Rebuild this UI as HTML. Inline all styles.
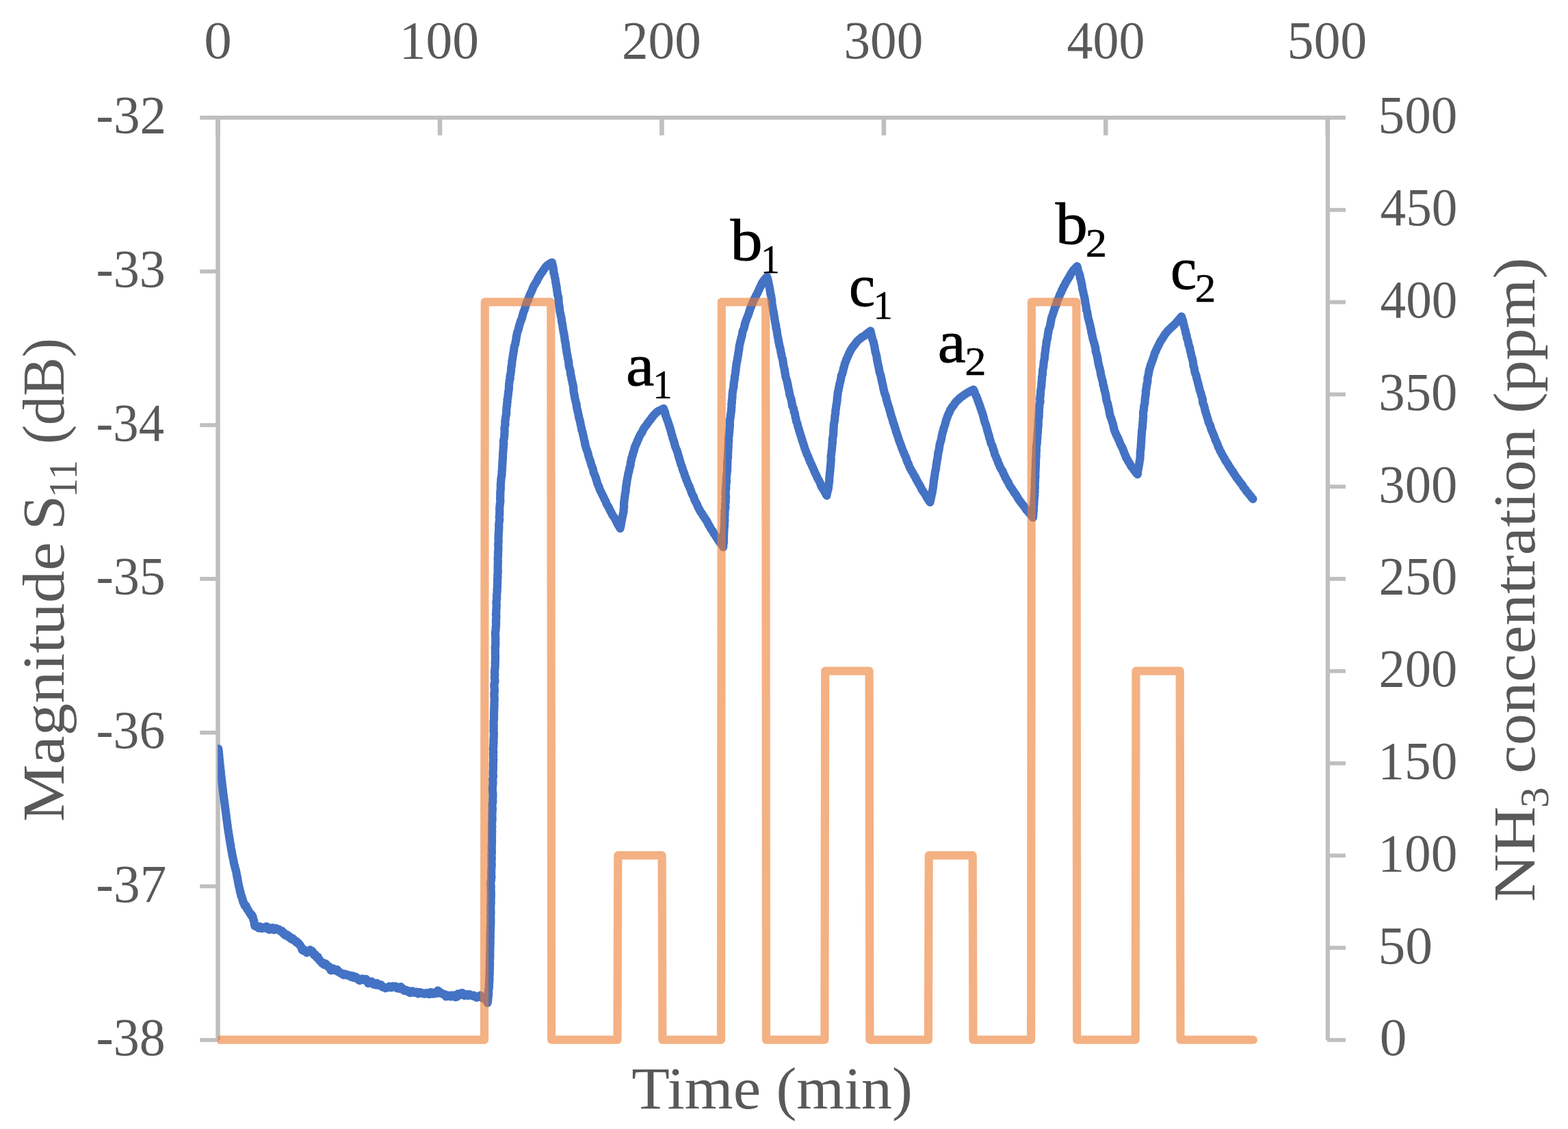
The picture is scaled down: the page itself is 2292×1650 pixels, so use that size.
<!DOCTYPE html>
<html lang="en"><head><meta charset="utf-8"><title>Magnitude S11 and NH3 concentration vs time</title>
<style>html,body{margin:0;padding:0;background:#fff;overflow:hidden}svg{display:block}text{font-family:"Liberation Serif","DejaVu Serif",serif}</style></head><body>
<svg width="2292" height="1650" viewBox="0 0 2292 1650">
<rect width="2292" height="1650" fill="#fff"/>
<defs><clipPath id="plot"><rect x="318.2" y="100" width="1700" height="1500"/></clipPath></defs>
<g fill="#BFBFBF"><rect x="292.3" y="169.0" width="1674.6" height="5.9"/><rect x="315.3" y="172.0" width="6.5" height="1348.0"/><rect x="1937.7" y="172.0" width="6.2" height="1348.0"/><rect x="292.3" y="393.8" width="27.2" height="5.8"/><rect x="292.3" y="618.4" width="27.2" height="5.8"/><rect x="292.3" y="843.1" width="27.2" height="5.8"/><rect x="292.3" y="1067.8" width="27.2" height="5.8"/><rect x="292.3" y="1292.4" width="27.2" height="5.8"/><rect x="292.3" y="1517.1" width="27.2" height="5.8"/><rect x="1939.8" y="1517.1" width="27.1" height="5.8"/><rect x="1939.8" y="1382.3" width="27.1" height="5.8"/><rect x="1939.8" y="1247.5" width="27.1" height="5.8"/><rect x="1939.8" y="1112.7" width="27.1" height="5.8"/><rect x="1939.8" y="977.9" width="27.1" height="5.8"/><rect x="1939.8" y="843.1" width="27.1" height="5.8"/><rect x="1939.8" y="708.3" width="27.1" height="5.8"/><rect x="1939.8" y="573.5" width="27.1" height="5.8"/><rect x="1939.8" y="438.7" width="27.1" height="5.8"/><rect x="1939.8" y="303.9" width="27.1" height="5.8"/><rect x="315.2" y="172.0" width="6.6" height="25.8"/><rect x="639.7" y="172.0" width="6.6" height="25.8"/><rect x="964.1" y="172.0" width="6.6" height="25.8"/><rect x="1288.6" y="172.0" width="6.6" height="25.8"/><rect x="1613.0" y="172.0" width="6.6" height="25.8"/><rect x="1937.5" y="172.0" width="6.6" height="25.8"/></g>
<g clip-path="url(#plot)" fill="none" stroke-linejoin="round" stroke-linecap="round">
<path d="M319.3 1094.4 L319.4 1095.1 L319.4 1096.0 L319.5 1096.5 L319.6 1097.0 L319.6 1097.7 L319.7 1098.5 L319.8 1099.1 L319.8 1099.7 L319.9 1100.5 L320.0 1101.4 L320.0 1102.1 L320.1 1102.5 L320.2 1103.1 L320.3 1103.8 L320.3 1104.4 L320.4 1105.2 L320.5 1106.1 L320.5 1107.0 L320.6 1107.6 L320.7 1108.2 L320.7 1109.0 L320.8 1109.6 L320.9 1110.1 L321.0 1110.9 L321.0 1111.7 L321.1 1112.4 L321.2 1113.1 L321.2 1113.7 L321.3 1114.6 L321.4 1115.6 L321.5 1116.3 L321.5 1117.0 L321.6 1117.7 L321.7 1118.3 L321.7 1118.8 L321.8 1119.4 L321.9 1119.9 L322.0 1120.5 L322.0 1121.3 L322.1 1122.3 L322.2 1123.1 L322.3 1123.7 L322.3 1124.4 L322.4 1125.0 L322.5 1125.6 L322.6 1126.3 L322.6 1127.0 L322.7 1127.9 L322.8 1128.7 L322.9 1129.3 L322.9 1130.0 L323.0 1130.8 L323.1 1131.7 L323.2 1132.3 L323.2 1133.0 L323.3 1133.7 L323.4 1134.2 L323.5 1134.8 L323.5 1135.6 L323.6 1136.2 L323.7 1136.9 L323.8 1137.7 L323.9 1138.3 L323.9 1139.1 L324.0 1139.9 L324.1 1140.5 L324.2 1140.9 L324.2 1141.4 L324.3 1142.3 L324.4 1143.2 L324.5 1143.9 L324.6 1144.6 L324.6 1145.4 L324.7 1146.0 L324.8 1146.7 L324.9 1147.5 L325.0 1148.0 L325.1 1148.8 L325.1 1149.8 L325.2 1150.3 L325.3 1150.7 L325.4 1151.5 L325.5 1152.4 L325.6 1153.1 L325.6 1153.7 L325.7 1154.3 L325.8 1155.0 L325.9 1155.8 L326.0 1156.5 L326.1 1157.1 L326.2 1157.8 L326.2 1158.5 L326.3 1159.2 L326.4 1159.9 L326.5 1160.6 L326.6 1161.4 L326.7 1162.0 L326.8 1162.6 L326.9 1163.4 L327.0 1164.1 L327.1 1164.7 L327.2 1165.3 L327.2 1165.9 L327.3 1166.8 L327.4 1167.6 L327.5 1168.3 L327.6 1168.9 L327.7 1169.5 L327.8 1170.1 L327.9 1170.9 L328.0 1171.8 L328.1 1172.4 L328.2 1172.9 L328.3 1173.5 L328.3 1174.1 L328.4 1174.8 L328.5 1175.6 L328.6 1176.1 L328.7 1176.6 L328.8 1177.4 L328.9 1178.3 L329.0 1179.1 L329.1 1179.8 L329.1 1180.4 L329.2 1181.2 L329.3 1181.9 L329.4 1182.6 L329.5 1183.3 L329.6 1184.0 L329.7 1184.7 L329.8 1185.4 L329.9 1186.1 L330.0 1186.9 L330.0 1187.7 L330.1 1188.4 L330.2 1189.1 L330.3 1189.8 L330.4 1190.6 L330.5 1191.3 L330.6 1191.9 L330.7 1192.6 L330.8 1193.2 L330.9 1193.9 L331.0 1194.9 L331.0 1195.3 L331.1 1195.8 L331.2 1196.6 L331.3 1197.3 L331.4 1198.0 L331.5 1198.8 L331.6 1199.3 L331.7 1200.0 L331.8 1200.7 L331.9 1201.3 L332.0 1201.9 L332.1 1202.7 L332.2 1203.6 L332.3 1204.5 L332.4 1205.2 L332.5 1206.0 L332.6 1206.5 L332.7 1207.0 L332.7 1207.6 L332.8 1208.1 L332.9 1208.8 L333.0 1209.6 L333.1 1210.5 L333.2 1211.2 L333.3 1211.8 L333.4 1212.4 L333.5 1213.0 L333.6 1213.9 L333.7 1214.7 L333.9 1215.4 L334.0 1216.1 L334.1 1217.0 L334.2 1217.6 L334.3 1218.1 L334.4 1218.7 L334.5 1219.4 L334.6 1220.1 L334.7 1220.8 L334.8 1221.6 L334.9 1222.4 L335.0 1223.2 L335.1 1223.8 L335.3 1224.4 L335.4 1225.0 L335.5 1225.6 L335.6 1226.4 L335.7 1227.3 L335.8 1227.9 L335.9 1228.7 L336.1 1229.3 L336.2 1230.0 L336.3 1230.7 L336.4 1231.4 L336.5 1232.0 L336.6 1232.7 L336.8 1233.3 L336.9 1234.0 L337.0 1234.8 L337.1 1235.7 L337.2 1236.3 L337.4 1236.9 L337.5 1237.2 L337.6 1238.1 L337.7 1239.0 L337.8 1239.7 L338.0 1240.6 L338.1 1241.2 L338.2 1241.8 L338.3 1242.8 L338.5 1243.7 L338.6 1244.2 L338.7 1244.6 L338.8 1245.1 L339.0 1245.7 L339.1 1246.3 L339.2 1247.2 L339.3 1248.4 L339.5 1249.0 L339.6 1249.5 L339.7 1250.3 L339.9 1251.1 L340.0 1251.7 L340.1 1252.5 L340.3 1253.0 L340.4 1253.5 L340.5 1254.1 L340.7 1254.2 L340.8 1255.0 L340.9 1255.9 L341.1 1256.5 L341.2 1257.3 L341.4 1258.0 L341.5 1259.0 L341.7 1260.3 L341.8 1260.8 L342.0 1261.3 L342.1 1262.0 L342.3 1262.6 L342.4 1263.4 L342.6 1264.2 L342.8 1264.8 L342.9 1265.1 L343.1 1265.9 L343.3 1266.5 L343.4 1267.0 L343.6 1268.0 L343.8 1268.6 L343.9 1269.6 L344.1 1270.3 L344.2 1270.7 L344.4 1271.2 L344.6 1271.6 L344.7 1271.6 L344.9 1272.4 L345.1 1273.1 L345.2 1273.9 L345.4 1274.7 L345.5 1275.4 L345.7 1276.1 L345.8 1277.6 L346.0 1278.5 L346.1 1278.6 L346.2 1279.2 L346.4 1280.2 L346.5 1281.4 L346.6 1282.1 L346.8 1282.0 L346.9 1282.4 L347.0 1283.1 L347.2 1283.7 L347.3 1284.5 L347.4 1285.6 L347.5 1286.5 L347.7 1287.8 L347.8 1288.3 L347.9 1288.1 L348.0 1288.5 L348.1 1289.5 L348.3 1290.6 L348.4 1290.6 L348.5 1290.9 L348.6 1292.0 L348.8 1292.9 L348.9 1293.6 L349.0 1294.8 L349.2 1295.3 L349.3 1295.7 L349.5 1296.1 L349.6 1296.8 L349.8 1297.3 L349.9 1297.6 L350.1 1298.6 L350.2 1299.2 L350.4 1300.0 L350.6 1301.0 L350.7 1302.6 L350.9 1303.3 L351.1 1303.8 L351.2 1304.1 L351.4 1303.7 L351.6 1303.9 L351.8 1305.4 L351.9 1306.9 L352.1 1307.6 L352.3 1308.4 L352.5 1308.8 L352.7 1308.7 L352.9 1309.9 L353.1 1311.1 L353.3 1310.6 L353.5 1310.4 L353.7 1311.5 L353.9 1312.6 L354.1 1313.4 L354.3 1313.8 L354.6 1314.3 L354.8 1314.7 L355.0 1316.7 L355.3 1318.4 L355.5 1318.6 L355.8 1318.3 L356.0 1318.7 L356.3 1318.9 L356.6 1320.5 L356.9 1321.5 L357.2 1321.9 L357.5 1322.9 L357.9 1323.7 L358.2 1324.3 L358.6 1324.4 L359.0 1324.1 L359.4 1323.5 L359.8 1324.1 L360.1 1325.5 L360.5 1326.8 L360.9 1327.9 L361.3 1328.7 L361.7 1328.4 L362.1 1328.9 L362.4 1329.7 L362.8 1330.3 L363.2 1330.9 L363.5 1331.5 L363.9 1332.6 L364.3 1333.0 L364.7 1333.8 L365.1 1334.5 L365.5 1335.1 L365.8 1334.7 L366.2 1335.6 L366.6 1336.4 L366.9 1337.5 L367.3 1338.2 L367.6 1337.2 L368.0 1336.9 L368.3 1337.8 L368.6 1338.6 L368.9 1338.4 L369.2 1339.2 L369.4 1339.4 L369.7 1340.1 L369.9 1341.8 L370.1 1343.2 L370.3 1343.7 L370.6 1344.5 L370.8 1345.7 L371.0 1345.7 L371.3 1345.4 L371.5 1347.4 L371.8 1349.8 L372.1 1352.0 L372.4 1353.3 L372.7 1352.9 L373.1 1352.1 L373.5 1351.7 L374.0 1352.8 L374.5 1354.1 L375.1 1354.3 L375.7 1353.4 L376.4 1354.0 L377.0 1355.5 L377.7 1356.3 L378.4 1355.3 L379.1 1354.3 L379.8 1354.2 L380.6 1354.5 L381.3 1355.1 L382.0 1356.4 L382.7 1357.0 L383.3 1357.0 L384.0 1356.6 L384.6 1355.7 L385.3 1355.4 L386.0 1355.2 L386.7 1355.8 L387.4 1356.4 L388.1 1355.3 L388.8 1354.1 L389.4 1354.6 L390.1 1354.8 L390.8 1354.6 L391.5 1355.8 L392.2 1358.0 L392.9 1358.7 L393.6 1358.0 L394.3 1358.6 L395.0 1358.5 L395.6 1357.1 L396.3 1357.1 L397.0 1357.3 L397.7 1356.8 L398.4 1355.8 L399.1 1356.6 L399.7 1358.2 L400.4 1359.1 L401.0 1358.9 L401.7 1358.2 L402.3 1358.8 L402.9 1357.9 L403.5 1356.6 L404.1 1357.2 L404.7 1357.4 L405.3 1357.6 L405.9 1358.0 L406.5 1358.6 L407.1 1358.4 L407.7 1358.4 L408.3 1359.4 L408.9 1359.5 L409.5 1359.9 L410.0 1360.9 L410.6 1360.5 L411.2 1360.3 L411.8 1360.4 L412.4 1360.6 L413.0 1362.3 L413.6 1364.1 L414.2 1363.5 L414.8 1363.4 L415.4 1363.5 L416.0 1364.7 L416.6 1366.8 L417.2 1367.0 L417.8 1366.2 L418.4 1366.1 L419.0 1366.0 L419.6 1366.1 L420.2 1366.4 L420.8 1367.2 L421.4 1368.7 L422.0 1369.8 L422.6 1370.0 L423.2 1369.4 L423.8 1369.1 L424.4 1369.8 L424.9 1370.6 L425.5 1372.1 L426.1 1372.8 L426.7 1372.7 L427.3 1371.7 L427.9 1371.4 L428.5 1373.5 L429.1 1374.1 L429.7 1373.1 L430.3 1374.2 L430.9 1375.2 L431.5 1375.3 L432.1 1376.4 L432.7 1375.9 L433.3 1375.9 L433.8 1377.6 L434.4 1377.7 L434.9 1377.4 L435.4 1377.8 L435.9 1377.7 L436.4 1379.2 L436.9 1379.2 L437.3 1379.4 L437.7 1380.0 L438.1 1381.1 L438.5 1381.8 L438.9 1381.8 L439.2 1382.7 L439.5 1382.9 L439.8 1383.0 L440.1 1383.5 L440.4 1383.8 L440.7 1384.9 L441.1 1386.7 L441.4 1387.5 L441.7 1388.5 L442.1 1388.4 L442.5 1387.2 L442.9 1386.8 L443.3 1388.2 L443.8 1389.6 L444.3 1389.8 L445.0 1389.9 L445.6 1390.3 L446.3 1389.0 L447.1 1389.1 L447.9 1391.0 L448.6 1392.4 L449.4 1391.1 L450.2 1389.6 L450.9 1390.1 L451.7 1390.5 L452.3 1390.1 L452.9 1388.8 L453.5 1388.2 L454.0 1389.0 L454.6 1390.2 L455.1 1391.7 L455.6 1391.9 L456.0 1390.3 L456.5 1390.1 L457.0 1390.9 L457.4 1391.8 L457.9 1393.1 L458.3 1394.0 L458.8 1395.0 L459.2 1396.0 L459.6 1395.5 L460.1 1394.8 L460.6 1394.8 L461.0 1395.6 L461.5 1396.0 L462.0 1396.7 L462.6 1398.7 L463.1 1399.4 L463.6 1399.0 L464.2 1398.5 L464.7 1398.6 L465.3 1400.4 L465.8 1402.0 L466.4 1401.3 L467.0 1402.7 L467.6 1404.4 L468.2 1404.8 L468.7 1405.2 L469.3 1405.8 L469.9 1405.9 L470.5 1407.3 L471.1 1408.0 L471.7 1406.8 L472.3 1406.8 L472.9 1408.2 L473.5 1409.6 L474.1 1410.2 L474.7 1409.6 L475.3 1408.4 L475.9 1408.4 L476.5 1409.7 L477.1 1410.2 L477.7 1410.0 L478.3 1411.0 L478.9 1412.3 L479.5 1412.9 L480.1 1412.5 L480.7 1412.9 L481.3 1412.7 L481.9 1413.3 L482.5 1414.8 L483.1 1417.1 L483.7 1418.3 L484.3 1416.8 L484.9 1416.2 L485.5 1415.9 L486.1 1415.0 L486.7 1415.4 L487.4 1415.7 L488.0 1417.5 L488.6 1418.1 L489.2 1417.1 L489.8 1416.6 L490.4 1417.8 L491.0 1417.7 L491.7 1417.5 L492.3 1417.4 L492.9 1417.0 L493.5 1418.7 L494.2 1420.3 L494.8 1420.5 L495.4 1420.3 L496.1 1420.4 L496.7 1421.5 L497.4 1421.9 L498.0 1421.6 L498.7 1421.8 L499.3 1423.0 L500.0 1423.7 L500.6 1423.6 L501.3 1424.1 L501.9 1424.9 L502.6 1425.0 L503.2 1424.0 L503.9 1423.3 L504.5 1423.3 L505.2 1424.0 L505.8 1424.9 L506.5 1425.2 L507.1 1424.6 L507.8 1424.5 L508.4 1424.8 L509.1 1425.9 L509.7 1425.9 L510.4 1425.8 L511.0 1425.4 L511.7 1425.5 L512.3 1426.3 L513.0 1427.8 L513.6 1427.5 L514.3 1426.6 L514.9 1426.1 L515.6 1426.8 L516.3 1428.5 L516.9 1429.0 L517.6 1427.4 L518.2 1427.2 L518.9 1428.0 L519.6 1427.9 L520.3 1427.9 L520.9 1429.4 L521.6 1430.1 L522.3 1429.4 L523.0 1430.6 L523.7 1432.0 L524.4 1432.1 L525.1 1432.0 L525.8 1433.1 L526.5 1432.1 L527.2 1431.0 L527.9 1431.1 L528.6 1430.6 L529.2 1430.7 L529.9 1430.4 L530.6 1430.9 L531.3 1431.2 L531.9 1432.1 L532.6 1432.3 L533.2 1432.0 L533.9 1432.0 L534.5 1431.9 L535.1 1430.9 L535.7 1432.0 L536.4 1433.2 L537.0 1433.9 L537.6 1435.6 L538.2 1437.2 L538.8 1435.9 L539.4 1435.5 L540.0 1435.9 L540.6 1436.0 L541.2 1435.3 L541.8 1436.5 L542.4 1435.6 L543.0 1434.3 L543.7 1435.3 L544.3 1436.9 L544.9 1437.8 L545.6 1438.3 L546.2 1438.8 L546.9 1438.5 L547.5 1437.7 L548.2 1437.1 L548.9 1438.7 L549.6 1439.6 L550.3 1438.2 L551.0 1436.9 L551.7 1437.9 L552.4 1439.8 L553.1 1439.2 L553.8 1438.6 L554.5 1439.1 L555.2 1440.1 L555.9 1439.8 L556.6 1439.2 L557.3 1439.4 L558.0 1441.1 L558.7 1442.4 L559.4 1442.6 L560.1 1443.1 L560.7 1443.1 L561.4 1443.0 L562.1 1443.2 L562.8 1443.6 L563.5 1444.3 L564.2 1443.9 L564.9 1443.1 L565.6 1443.1 L566.2 1443.3 L566.9 1443.4 L567.6 1443.2 L568.3 1442.4 L569.0 1441.5 L569.7 1442.5 L570.4 1443.0 L571.1 1442.3 L571.8 1443.3 L572.5 1443.1 L573.2 1441.8 L573.9 1441.3 L574.6 1442.4 L575.3 1442.0 L576.0 1442.1 L576.7 1442.6 L577.4 1441.8 L578.1 1441.5 L578.8 1441.9 L579.5 1443.2 L580.2 1444.2 L580.9 1444.5 L581.6 1444.2 L582.3 1443.7 L583.0 1443.6 L583.7 1444.0 L584.4 1445.1 L585.0 1443.9 L585.7 1442.0 L586.4 1443.0 L587.1 1444.6 L587.7 1444.0 L588.4 1444.4 L589.0 1445.2 L589.7 1445.5 L590.3 1447.3 L590.9 1448.0 L591.6 1447.2 L592.2 1447.5 L592.9 1446.8 L593.5 1446.8 L594.2 1448.0 L594.8 1448.6 L595.4 1448.8 L596.1 1449.2 L596.8 1448.3 L597.4 1448.2 L598.1 1449.0 L598.7 1450.6 L599.4 1451.2 L600.1 1450.5 L600.8 1449.3 L601.5 1449.7 L602.2 1449.6 L602.9 1448.3 L603.6 1448.7 L604.3 1450.2 L605.0 1450.7 L605.7 1450.7 L606.4 1450.8 L607.1 1450.8 L607.8 1450.6 L608.5 1450.1 L609.2 1449.7 L609.9 1450.0 L610.6 1451.0 L611.3 1452.3 L612.0 1451.4 L612.7 1450.4 L613.4 1450.0 L614.1 1450.0 L614.8 1450.4 L615.5 1451.0 L616.2 1451.4 L616.9 1451.6 L617.6 1451.4 L618.2 1452.1 L618.9 1452.4 L619.6 1451.6 L620.3 1452.1 L621.0 1452.5 L621.7 1452.1 L622.4 1451.3 L623.1 1451.2 L623.8 1452.4 L624.5 1451.6 L625.2 1451.3 L625.9 1451.7 L626.6 1451.3 L627.3 1452.5 L627.9 1453.0 L628.6 1452.6 L629.3 1451.5 L630.0 1450.1 L630.7 1450.3 L631.4 1452.0 L632.1 1451.7 L632.8 1451.7 L633.5 1452.6 L634.2 1451.6 L634.9 1451.1 L635.6 1451.1 L636.3 1450.8 L637.0 1450.1 L637.7 1450.7 L638.4 1451.8 L639.1 1450.5 L639.8 1447.6 L640.5 1447.8 L641.1 1449.7 L641.8 1450.3 L642.5 1450.5 L643.2 1450.7 L643.9 1450.1 L644.6 1451.4 L645.3 1452.0 L645.9 1452.2 L646.6 1452.6 L647.3 1452.9 L648.0 1452.5 L648.7 1452.7 L649.4 1453.7 L650.1 1453.6 L650.8 1453.6 L651.5 1455.4 L652.1 1456.5 L652.8 1456.5 L653.5 1455.7 L654.2 1455.3 L654.9 1454.8 L655.6 1454.6 L656.3 1455.4 L657.0 1455.8 L657.7 1456.1 L658.4 1456.6 L659.1 1455.0 L659.8 1454.5 L660.5 1455.5 L661.2 1456.5 L661.9 1455.9 L662.6 1455.2 L663.3 1454.7 L664.0 1454.5 L664.7 1455.1 L665.3 1456.7 L666.0 1457.3 L666.7 1456.9 L667.4 1456.5 L668.1 1456.8 L668.8 1454.3 L669.5 1452.4 L670.2 1453.0 L670.9 1453.7 L671.6 1453.5 L672.3 1452.6 L673.0 1453.5 L673.7 1453.9 L674.3 1452.2 L675.0 1451.0 L675.7 1451.0 L676.4 1452.7 L677.1 1454.1 L677.8 1454.5 L678.5 1455.0 L679.2 1455.2 L679.9 1454.8 L680.6 1454.5 L681.3 1453.3 L682.0 1453.1 L682.7 1453.6 L683.3 1453.6 L684.0 1454.6 L684.7 1455.3 L685.4 1454.4 L686.1 1453.2 L686.8 1453.5 L687.5 1454.6 L688.2 1454.1 L688.9 1454.2 L689.6 1454.6 L690.3 1455.3 L691.0 1455.8 L691.7 1454.8 L692.4 1454.7 L693.1 1456.3 L693.8 1456.6 L694.5 1456.5 L695.2 1456.5 L696.0 1457.1 L696.7 1457.9 L697.4 1457.7 L698.1 1456.4 L698.8 1456.1 L699.6 1456.7 L700.3 1457.0 L701.0 1456.7 L701.6 1455.3 L702.3 1454.5 L703.0 1456.3 L703.6 1457.6 L704.3 1458.1 L704.9 1458.6 L705.5 1458.1 L706.1 1457.7 L706.7 1458.4 L707.3 1458.9 L707.9 1459.7 L708.5 1459.8 L709.1 1460.0 L709.6 1460.1 L710.1 1459.8 L710.6 1459.3 L711.0 1459.7 L711.5 1459.9 L711.9 1462.2 L712.3 1464.6 L712.6 1465.8 L713.0 1464.0 L713.1 1462.8 L713.2 1461.6 L713.2 1460.4 L713.4 1459.2 L713.6 1458.0 L713.7 1456.8 L713.9 1455.6 L714.0 1454.4 L714.1 1453.2 L714.2 1452.0 L714.2 1450.8 L714.1 1449.6 L714.1 1448.4 L714.2 1447.2 L714.4 1446.0 L714.6 1444.8 L714.8 1443.7 L714.9 1442.5 L714.9 1441.3 L714.9 1440.0 L714.9 1438.8 L714.9 1437.6 L715.1 1436.5 L715.3 1435.3 L715.3 1434.1 L715.3 1432.9 L715.5 1431.7 L715.6 1430.5 L715.4 1429.3 L715.3 1428.0 L715.4 1426.9 L715.5 1425.7 L715.6 1424.5 L715.7 1423.3 L715.7 1422.1 L715.7 1420.9 L715.7 1419.7 L715.7 1418.5 L715.8 1417.3 L716.0 1416.1 L716.0 1414.9 L715.9 1413.7 L715.9 1412.5 L716.0 1411.3 L716.1 1410.1 L716.2 1408.9 L716.2 1407.7 L716.0 1406.5 L715.9 1405.3 L716.0 1404.1 L716.0 1402.9 L716.1 1401.7 L716.3 1400.5 L716.3 1399.3 L716.2 1398.1 L716.3 1396.9 L716.4 1395.7 L716.4 1394.5 L716.3 1393.3 L716.2 1392.1 L716.2 1390.9 L716.3 1389.7 L716.4 1388.5 L716.4 1387.3 L716.4 1386.1 L716.4 1384.9 L716.6 1383.7 L716.6 1382.5 L716.5 1381.3 L716.6 1380.1 L716.8 1378.9 L716.7 1377.7 L716.6 1376.5 L716.6 1375.3 L716.7 1374.1 L716.6 1372.9 L716.6 1371.7 L716.8 1370.5 L716.9 1369.3 L716.9 1368.1 L716.7 1366.8 L716.6 1365.6 L716.7 1364.4 L716.8 1363.2 L716.9 1362.0 L716.9 1360.8 L717.0 1359.6 L717.0 1358.4 L717.1 1357.2 L717.1 1356.0 L717.1 1354.8 L717.0 1353.6 L717.1 1352.4 L717.3 1351.2 L717.4 1350.0 L717.4 1348.8 L717.4 1347.6 L717.4 1346.4 L717.4 1345.2 L717.3 1344.0 L717.3 1342.8 L717.3 1341.6 L717.3 1340.4 L717.2 1339.2 L717.2 1338.0 L717.4 1336.8 L717.5 1335.6 L717.6 1334.4 L717.6 1333.2 L717.5 1332.0 L717.3 1330.8 L717.3 1329.6 L717.4 1328.4 L717.3 1327.2 L717.2 1326.0 L717.2 1324.8 L717.3 1323.6 L717.5 1322.4 L717.6 1321.2 L717.7 1320.0 L717.7 1318.8 L717.7 1317.6 L717.7 1316.4 L717.6 1315.2 L717.6 1314.0 L717.7 1312.8 L717.8 1311.6 L717.8 1310.4 L717.9 1309.2 L717.8 1308.0 L717.7 1306.8 L717.9 1305.6 L717.9 1304.4 L717.8 1303.2 L717.6 1302.0 L717.5 1300.8 L717.6 1299.6 L717.6 1298.4 L717.7 1297.2 L717.7 1296.0 L717.7 1294.8 L717.4 1293.6 L717.3 1292.4 L717.3 1291.2 L717.3 1290.0 L717.4 1288.8 L717.8 1287.6 L718.0 1286.4 L718.0 1285.2 L718.1 1284.0 L718.4 1282.8 L718.5 1281.6 L718.4 1280.4 L718.2 1279.2 L718.1 1278.0 L718.1 1276.8 L718.2 1275.6 L718.3 1274.4 L718.2 1273.2 L718.1 1272.0 L718.1 1270.8 L718.3 1269.6 L718.4 1268.4 L718.5 1267.2 L718.6 1266.0 L718.7 1264.8 L718.8 1263.6 L718.7 1262.4 L718.5 1261.2 L718.4 1260.0 L718.5 1258.8 L718.6 1257.6 L718.6 1256.4 L718.7 1255.2 L718.8 1254.0 L718.7 1252.8 L718.6 1251.6 L718.5 1250.4 L718.4 1249.2 L718.6 1248.0 L718.9 1246.8 L719.0 1245.6 L718.9 1244.4 L718.7 1243.2 L718.7 1242.0 L718.7 1240.8 L718.8 1239.6 L718.8 1238.4 L718.7 1237.2 L718.7 1236.0 L718.9 1234.8 L719.0 1233.6 L719.0 1232.4 L719.0 1231.2 L719.0 1230.0 L719.1 1228.8 L719.0 1227.6 L718.9 1226.4 L719.0 1225.2 L719.0 1224.0 L719.1 1222.8 L719.1 1221.6 L719.0 1220.4 L719.0 1219.2 L719.0 1218.0 L719.1 1216.8 L719.3 1215.6 L719.3 1214.4 L719.1 1213.2 L718.9 1212.0 L718.9 1210.8 L719.1 1209.6 L719.3 1208.4 L719.2 1207.2 L719.1 1205.9 L719.0 1204.7 L719.0 1203.5 L719.2 1202.3 L719.2 1201.1 L719.3 1199.9 L719.5 1198.8 L719.7 1197.6 L719.7 1196.4 L719.6 1195.1 L719.5 1193.9 L719.4 1192.7 L719.4 1191.5 L719.6 1190.3 L719.5 1189.1 L719.4 1187.9 L719.5 1186.7 L719.7 1185.5 L719.9 1184.3 L720.0 1183.1 L720.0 1181.9 L719.9 1180.7 L719.7 1179.5 L719.6 1178.3 L719.6 1177.1 L719.6 1175.9 L719.7 1174.7 L720.0 1173.5 L720.3 1172.3 L720.4 1171.1 L720.3 1169.9 L720.2 1168.7 L720.2 1167.5 L720.3 1166.3 L720.4 1165.1 L720.4 1163.9 L720.4 1162.7 L720.4 1161.5 L720.5 1160.3 L720.4 1159.1 L720.2 1157.9 L719.9 1156.7 L719.9 1155.5 L720.0 1154.3 L719.9 1153.1 L719.8 1151.9 L719.9 1150.7 L720.1 1149.5 L720.2 1148.3 L720.3 1147.1 L720.5 1145.9 L720.5 1144.7 L720.5 1143.5 L720.5 1142.3 L720.3 1141.1 L720.2 1139.9 L720.2 1138.7 L720.4 1137.5 L720.7 1136.3 L721.0 1135.1 L721.0 1133.9 L720.8 1132.7 L720.6 1131.5 L720.6 1130.3 L720.6 1129.1 L720.6 1127.9 L720.7 1126.7 L720.8 1125.5 L720.9 1124.3 L720.9 1123.1 L720.9 1121.9 L720.9 1120.7 L720.9 1119.5 L720.8 1118.3 L720.8 1117.1 L720.9 1115.9 L720.9 1114.7 L721.0 1113.5 L721.2 1112.3 L721.4 1111.1 L721.3 1109.9 L721.1 1108.7 L721.1 1107.5 L721.1 1106.3 L721.2 1105.1 L721.1 1103.9 L720.9 1102.7 L720.9 1101.5 L721.2 1100.3 L721.4 1099.1 L721.2 1097.9 L721.0 1096.7 L720.8 1095.5 L720.8 1094.3 L720.9 1093.1 L721.2 1091.9 L721.4 1090.7 L721.3 1089.5 L721.2 1088.3 L721.4 1087.1 L721.6 1085.9 L721.5 1084.7 L721.4 1083.5 L721.4 1082.3 L721.6 1081.1 L721.6 1079.9 L721.6 1078.7 L721.8 1077.5 L721.9 1076.3 L721.9 1075.1 L721.9 1073.9 L721.9 1072.7 L721.9 1071.5 L721.8 1070.3 L721.6 1069.1 L721.4 1067.9 L721.6 1066.7 L721.8 1065.5 L721.6 1064.3 L721.5 1063.1 L721.7 1061.9 L721.8 1060.7 L721.6 1059.5 L721.5 1058.3 L721.6 1057.1 L721.6 1055.9 L721.7 1054.7 L721.7 1053.5 L721.9 1052.3 L722.1 1051.1 L722.1 1049.9 L722.1 1048.7 L722.1 1047.5 L722.1 1046.3 L722.0 1045.1 L722.0 1043.9 L722.1 1042.7 L722.1 1041.5 L722.1 1040.3 L722.2 1039.1 L722.3 1037.9 L722.3 1036.7 L722.2 1035.5 L722.3 1034.3 L722.5 1033.1 L722.6 1031.9 L722.6 1030.7 L722.5 1029.5 L722.5 1028.3 L722.5 1027.1 L722.5 1025.9 L722.6 1024.7 L722.7 1023.5 L722.8 1022.3 L722.8 1021.1 L722.7 1019.9 L722.6 1018.7 L722.5 1017.5 L722.4 1016.3 L722.4 1015.1 L722.4 1013.9 L722.5 1012.7 L722.7 1011.5 L722.9 1010.3 L723.0 1009.1 L722.9 1007.9 L722.8 1006.7 L722.7 1005.5 L722.6 1004.3 L722.4 1003.0 L722.4 1001.8 L722.5 1000.6 L722.6 999.4 L722.8 998.3 L723.2 997.1 L723.5 995.9 L723.5 994.7 L723.4 993.5 L723.2 992.3 L723.0 991.0 L722.9 989.8 L722.9 988.6 L723.1 987.4 L723.3 986.2 L723.3 985.0 L723.1 983.8 L723.0 982.6 L723.0 981.4 L723.1 980.2 L723.3 979.0 L723.3 977.8 L723.4 976.6 L723.6 975.4 L723.8 974.3 L723.8 973.1 L723.8 971.8 L723.8 970.6 L723.6 969.4 L723.7 968.2 L723.9 967.0 L724.0 965.8 L723.9 964.6 L723.9 963.4 L724.0 962.2 L724.1 961.0 L724.1 959.8 L724.0 958.6 L724.0 957.4 L723.9 956.2 L723.8 955.0 L723.9 953.8 L724.0 952.6 L724.0 951.4 L723.9 950.2 L723.8 949.0 L723.7 947.8 L723.7 946.6 L723.8 945.4 L724.2 944.2 L724.3 943.0 L724.3 941.8 L724.3 940.6 L724.4 939.4 L724.3 938.2 L724.2 937.0 L724.3 935.8 L724.3 934.6 L724.3 933.4 L724.3 932.2 L724.4 931.0 L724.3 929.8 L724.1 928.6 L724.0 927.4 L724.0 926.2 L723.9 925.0 L724.1 923.8 L724.4 922.6 L724.5 921.4 L724.5 920.2 L724.7 919.0 L724.7 917.8 L724.7 916.6 L724.9 915.4 L725.1 914.2 L725.1 913.0 L725.1 911.8 L725.2 910.6 L725.1 909.4 L725.0 908.2 L724.9 907.0 L725.1 905.8 L725.2 904.6 L725.3 903.4 L725.4 902.2 L725.5 901.0 L725.4 899.8 L725.0 898.6 L724.9 897.4 L725.1 896.2 L725.3 895.0 L725.4 893.8 L725.3 892.6 L725.3 891.4 L725.5 890.2 L725.6 889.0 L725.6 887.8 L725.7 886.6 L725.7 885.4 L725.9 884.2 L725.8 883.0 L725.5 881.8 L725.3 880.6 L725.5 879.4 L725.8 878.2 L725.9 877.0 L726.1 875.8 L726.2 874.6 L726.3 873.4 L726.1 872.2 L726.0 871.0 L726.1 869.8 L726.3 868.6 L726.4 867.4 L726.5 866.2 L726.6 865.0 L726.7 863.8 L726.5 862.6 L726.5 861.4 L726.8 860.2 L726.9 859.0 L727.0 857.8 L727.1 856.6 L727.0 855.4 L726.9 854.2 L727.0 853.0 L727.1 851.8 L727.2 850.6 L727.3 849.4 L727.1 848.2 L727.0 847.0 L727.1 845.8 L727.5 844.6 L727.6 843.4 L727.4 842.2 L727.2 841.0 L727.3 839.8 L727.6 838.6 L727.8 837.4 L727.7 836.2 L727.7 835.0 L727.8 833.8 L727.7 832.6 L727.6 831.4 L727.6 830.2 L727.6 829.0 L727.7 827.8 L727.7 826.6 L727.7 825.4 L727.7 824.2 L727.8 823.0 L727.9 821.8 L727.9 820.6 L727.8 819.4 L727.7 818.2 L727.7 817.0 L727.7 815.8 L727.8 814.6 L727.9 813.4 L728.1 812.2 L728.1 811.0 L728.1 809.8 L728.0 808.6 L728.0 807.4 L728.0 806.2 L728.2 805.0 L728.4 803.8 L728.4 802.6 L728.4 801.4 L728.4 800.2 L728.5 799.0 L728.3 797.8 L728.2 796.6 L728.2 795.4 L728.3 794.2 L728.5 793.0 L728.6 791.8 L728.6 790.6 L728.7 789.4 L728.6 788.2 L728.5 787.0 L728.5 785.8 L728.6 784.6 L728.7 783.4 L728.7 782.2 L728.7 781.0 L728.8 779.8 L729.0 778.6 L729.1 777.4 L729.1 776.2 L729.2 775.0 L729.2 773.8 L729.3 772.6 L729.4 771.4 L729.4 770.2 L729.2 769.0 L729.2 767.8 L729.3 766.6 L729.4 765.4 L729.5 764.2 L729.7 763.0 L729.9 761.8 L730.1 760.6 L730.2 759.4 L730.2 758.2 L730.0 757.0 L729.8 755.8 L729.8 754.6 L730.1 753.4 L730.3 752.2 L730.3 751.0 L730.2 749.8 L730.3 748.6 L730.4 747.4 L730.3 746.2 L730.3 745.0 L730.3 743.8 L730.2 742.6 L730.3 741.4 L730.5 740.2 L730.7 739.0 L730.7 737.8 L730.8 736.6 L731.0 735.4 L731.2 734.2 L731.3 733.0 L731.4 731.8 L731.3 730.6 L731.2 729.4 L731.1 728.2 L731.2 727.0 L731.3 725.8 L731.3 724.6 L731.2 723.4 L731.3 722.2 L731.4 721.0 L731.3 719.8 L731.3 718.6 L731.6 717.4 L731.7 716.2 L731.8 715.0 L731.9 713.8 L731.9 712.6 L731.9 711.4 L731.8 710.2 L731.9 709.0 L731.8 707.8 L731.9 706.6 L732.2 705.4 L732.3 704.2 L732.3 703.0 L732.3 701.8 L732.4 700.6 L732.5 699.4 L732.7 698.2 L732.9 697.0 L733.1 695.8 L733.3 694.6 L733.6 693.4 L733.6 692.2 L733.5 691.0 L733.5 689.8 L733.6 688.6 L733.8 687.4 L733.9 686.2 L734.0 685.0 L734.1 683.8 L734.0 682.6 L734.1 681.4 L734.3 680.2 L734.4 679.0 L734.4 677.8 L734.4 676.6 L734.5 675.4 L734.5 674.2 L734.7 673.0 L734.9 671.8 L735.0 670.6 L734.9 669.4 L734.9 668.2 L735.1 667.0 L735.1 665.8 L735.1 664.6 L735.2 663.4 L735.2 662.2 L735.2 661.0 L735.4 659.8 L735.5 658.6 L735.6 657.4 L735.7 656.2 L735.7 655.0 L735.8 653.8 L735.8 652.6 L735.9 651.5 L736.1 650.3 L736.4 649.1 L736.3 647.9 L736.0 646.7 L735.9 645.4 L736.0 644.3 L736.3 643.1 L736.5 641.9 L736.8 640.7 L737.0 639.5 L737.1 638.3 L737.2 637.1 L737.3 635.9 L737.4 634.7 L737.4 633.5 L737.4 632.3 L737.5 631.1 L737.7 629.9 L737.6 628.7 L737.4 627.5 L737.4 626.3 L737.5 625.1 L737.7 623.9 L737.9 622.7 L738.3 621.6 L738.6 620.4 L738.5 619.2 L738.3 617.9 L738.3 616.7 L738.3 615.5 L738.5 614.3 L738.8 613.2 L739.1 612.0 L739.1 610.8 L739.2 609.6 L739.5 608.4 L739.6 607.2 L739.9 606.0 L740.2 604.9 L740.3 603.7 L740.2 602.5 L740.1 601.2 L740.3 600.1 L740.4 598.9 L740.4 597.7 L740.4 596.5 L740.5 595.3 L740.9 594.1 L741.1 592.9 L741.1 591.7 L741.0 590.5 L741.2 589.3 L741.6 588.1 L741.7 586.9 L741.6 585.7 L741.5 584.5 L741.7 583.3 L742.1 582.1 L742.4 581.0 L742.5 579.8 L742.5 578.6 L742.6 577.4 L742.8 576.2 L743.0 575.0 L743.1 573.8 L743.1 572.6 L743.4 571.4 L743.6 570.2 L743.8 569.1 L743.9 567.9 L743.9 566.6 L743.9 565.4 L744.0 564.2 L744.1 563.0 L744.1 561.8 L744.2 560.6 L744.4 559.5 L744.6 558.3 L744.7 557.1 L744.9 555.9 L745.3 554.7 L745.7 553.6 L745.7 552.4 L745.5 551.1 L745.5 549.9 L745.8 548.7 L746.1 547.6 L746.4 546.4 L746.5 545.2 L746.7 544.0 L746.9 542.8 L747.0 541.6 L747.1 540.4 L747.2 539.2 L747.2 538.0 L747.3 536.8 L747.6 535.7 L747.9 534.5 L748.0 533.3 L748.2 532.1 L748.3 530.9 L748.4 529.7 L748.4 528.5 L748.6 527.3 L748.8 526.1 L749.0 525.0 L749.2 523.8 L749.4 522.6 L749.5 521.4 L749.7 520.2 L750.0 519.0 L750.1 517.8 L750.3 516.7 L750.6 515.5 L750.7 514.3 L750.9 513.1 L751.2 511.9 L751.3 510.7 L751.4 509.5 L751.5 508.3 L751.7 507.2 L751.9 506.0 L752.4 504.8 L752.9 503.7 L753.2 502.5 L753.3 501.3 L753.5 500.2 L753.8 499.0 L754.0 497.8 L754.3 496.6 L754.5 495.4 L754.6 494.2 L754.6 493.0 L754.9 491.8 L755.2 490.7 L755.4 489.5 L755.6 488.3 L755.9 487.1 L756.2 485.9 L756.4 484.7 L757.0 483.6 L757.5 482.5 L757.8 481.4 L758.1 480.2 L758.2 479.0 L758.5 477.8 L758.9 476.7 L759.2 475.5 L759.4 474.3 L759.9 473.2 L760.4 472.1 L760.7 470.9 L760.9 469.7 L761.3 468.6 L761.9 467.5 L762.4 466.4 L762.9 465.3 L763.1 464.1 L763.3 462.9 L763.7 461.7 L764.0 460.6 L764.2 459.4 L764.6 458.2 L764.9 457.1 L765.3 455.9 L765.8 454.8 L766.3 453.7 L766.7 452.6 L767.1 451.4 L767.4 450.3 L767.7 449.1 L768.0 447.9 L768.4 446.8 L768.7 445.6 L769.0 444.5 L769.5 443.4 L770.0 442.3 L770.4 441.2 L770.9 440.1 L771.5 439.0 L772.0 438.0 L772.5 436.8 L772.8 435.7 L773.2 434.6 L773.6 433.4 L774.0 432.3 L774.4 431.2 L774.9 430.1 L775.4 429.0 L776.0 427.9 L776.5 426.9 L777.0 425.8 L777.5 424.7 L778.0 423.6 L778.5 422.5 L778.7 421.3 L779.1 420.2 L779.7 419.1 L780.3 418.1 L780.8 417.0 L781.4 416.0 L782.1 415.0 L782.7 413.9 L783.2 412.9 L783.9 411.9 L784.7 410.9 L785.2 409.9 L785.6 408.7 L786.1 407.6 L786.7 406.6 L787.4 405.6 L787.9 404.6 L788.5 403.5 L789.1 402.5 L789.8 401.5 L790.4 400.5 L791.1 399.4 L791.9 398.5 L792.7 397.6 L793.2 396.5 L793.9 395.5 L794.6 394.5 L795.3 393.6 L796.0 392.6 L796.7 391.6 L797.3 390.6 L798.1 389.8 L798.9 388.9 L799.7 388.0 L800.6 387.3 L801.6 386.7 L802.6 386.0 L803.6 385.3 L804.7 384.7 L805.7 384.1 L806.8 383.5 L807.0 384.7 L807.4 385.8 L807.6 387.0 L807.8 388.2 L808.2 389.3 L808.6 390.5 L808.7 391.7 L808.7 392.9 L809.0 394.1 L809.2 395.3 L809.3 396.5 L809.3 397.7 L809.4 398.9 L809.9 400.0 L810.4 401.2 L810.6 402.3 L810.7 403.6 L810.9 404.7 L811.2 405.9 L811.4 407.1 L811.7 408.2 L811.9 409.4 L812.0 410.6 L812.1 411.8 L812.3 413.0 L812.6 414.2 L812.9 415.4 L813.1 416.5 L813.2 417.7 L813.3 418.9 L813.7 420.1 L813.9 421.3 L813.9 422.5 L814.0 423.7 L814.2 424.9 L814.4 426.1 L814.6 427.2 L814.7 428.4 L814.9 429.6 L815.1 430.8 L815.4 432.0 L815.8 433.1 L816.2 434.3 L816.4 435.5 L816.5 436.7 L816.5 437.9 L816.5 439.1 L816.6 440.3 L816.7 441.5 L816.7 442.7 L816.8 443.9 L817.1 445.1 L817.4 446.3 L817.5 447.5 L817.6 448.6 L817.9 449.8 L818.0 451.0 L818.0 452.2 L818.1 453.4 L818.3 454.6 L818.6 455.8 L818.9 457.0 L819.2 458.1 L819.4 459.3 L819.5 460.5 L819.7 461.7 L820.1 462.9 L820.5 464.0 L820.7 465.2 L820.8 466.4 L820.9 467.6 L821.0 468.8 L821.1 470.0 L821.4 471.2 L821.7 472.3 L821.9 473.5 L822.1 474.7 L822.3 475.9 L822.5 477.1 L822.7 478.2 L822.8 479.4 L822.9 480.7 L823.1 481.8 L823.4 483.0 L823.6 484.2 L823.7 485.4 L824.0 486.6 L824.4 487.7 L824.6 488.9 L824.7 490.1 L824.8 491.3 L825.1 492.5 L825.4 493.6 L825.5 494.8 L825.5 496.0 L825.6 497.2 L825.9 498.4 L826.2 499.6 L826.5 500.8 L826.7 501.9 L826.8 503.1 L827.0 504.3 L827.2 505.5 L827.2 506.7 L827.3 507.9 L827.5 509.1 L827.8 510.3 L828.0 511.5 L828.2 512.6 L828.4 513.8 L828.4 515.0 L828.6 516.2 L828.9 517.4 L829.3 518.5 L829.5 519.7 L829.6 520.9 L829.7 522.1 L829.9 523.3 L830.1 524.5 L830.5 525.6 L830.9 526.8 L831.0 528.0 L831.1 529.2 L831.4 530.4 L831.4 531.6 L831.4 532.8 L831.5 534.0 L831.6 535.2 L831.9 536.3 L832.4 537.5 L832.8 538.6 L833.0 539.8 L833.3 541.0 L833.6 542.1 L833.8 543.3 L833.9 544.5 L833.9 545.7 L834.1 546.9 L834.3 548.1 L834.7 549.3 L835.1 550.4 L835.3 551.6 L835.3 552.8 L835.5 554.0 L835.8 555.1 L836.1 556.3 L836.4 557.5 L836.6 558.7 L836.8 559.8 L837.2 561.0 L837.4 562.2 L837.6 563.3 L838.0 564.5 L838.2 565.7 L838.2 566.9 L838.2 568.1 L838.3 569.3 L838.4 570.5 L838.6 571.7 L838.7 572.9 L838.8 574.1 L839.1 575.3 L839.5 576.4 L839.7 577.6 L839.7 578.8 L840.0 580.0 L840.2 581.2 L840.4 582.3 L840.7 583.5 L841.0 584.7 L841.3 585.8 L841.5 587.0 L841.8 588.2 L842.2 589.3 L842.6 590.5 L842.8 591.7 L842.8 592.9 L842.8 594.1 L843.0 595.3 L843.3 596.4 L843.6 597.6 L843.9 598.8 L844.2 599.9 L844.5 601.1 L844.7 602.3 L845.0 603.4 L845.2 604.6 L845.4 605.8 L845.8 606.9 L846.0 608.1 L846.0 609.3 L846.2 610.5 L846.7 611.6 L847.2 612.8 L847.4 613.9 L847.6 615.1 L847.9 616.3 L848.3 617.4 L848.5 618.6 L848.6 619.8 L848.8 621.0 L849.1 622.1 L849.4 623.3 L849.7 624.5 L850.0 625.6 L850.1 626.8 L850.2 628.0 L850.6 629.2 L851.1 630.3 L851.5 631.4 L851.7 632.6 L851.9 633.8 L852.1 635.0 L852.5 636.1 L852.9 637.3 L853.1 638.4 L853.3 639.6 L853.5 640.8 L853.7 642.0 L854.0 643.2 L854.3 644.3 L854.7 645.5 L855.0 646.6 L855.2 647.8 L855.2 649.0 L855.4 650.2 L855.8 651.3 L856.1 652.5 L856.4 653.7 L856.8 654.8 L857.1 655.9 L857.5 657.1 L858.0 658.2 L858.5 659.3 L858.8 660.4 L859.2 661.6 L859.5 662.7 L859.8 663.9 L860.0 665.1 L860.3 666.3 L860.6 667.4 L861.0 668.6 L861.3 669.7 L861.7 670.9 L862.2 672.0 L862.7 673.0 L863.1 674.2 L863.3 675.4 L863.6 676.5 L863.9 677.7 L864.3 678.9 L864.6 680.0 L864.9 681.2 L865.5 682.2 L866.0 683.3 L866.4 684.5 L866.7 685.6 L867.0 686.8 L867.2 688.0 L867.4 689.2 L867.6 690.4 L868.0 691.5 L868.6 692.6 L869.1 693.7 L869.5 694.8 L869.9 695.9 L870.4 697.0 L870.9 698.1 L871.1 699.3 L871.4 700.5 L871.9 701.6 L872.3 702.7 L872.6 703.9 L872.8 705.1 L873.1 706.3 L873.6 707.4 L874.1 708.5 L874.6 709.6 L875.2 710.6 L875.6 711.7 L875.8 712.9 L876.3 714.0 L876.7 715.2 L877.1 716.3 L877.6 717.4 L878.2 718.4 L878.8 719.5 L879.4 720.6 L879.9 721.7 L880.4 722.8 L881.0 723.8 L881.5 724.9 L882.0 726.0 L882.5 727.1 L883.0 728.2 L883.5 729.3 L884.0 730.4 L884.6 731.4 L885.2 732.5 L885.7 733.6 L886.0 734.8 L886.4 735.9 L886.9 737.0 L887.6 738.0 L888.2 739.1 L888.8 740.1 L889.5 741.1 L890.1 742.2 L890.6 743.3 L891.0 744.4 L891.5 745.5 L892.1 746.6 L892.7 747.6 L893.3 748.6 L893.8 749.7 L894.3 750.8 L894.9 752.0 L895.4 753.1 L896.1 754.1 L897.0 755.0 L897.7 756.0 L898.3 757.1 L899.0 758.2 L899.5 759.2 L900.1 760.4 L900.6 761.5 L901.3 762.5 L901.8 763.7 L902.2 764.8 L902.8 765.9 L903.4 767.0 L904.0 768.1 L904.7 769.1 L905.3 770.2 L906.0 771.2 L906.6 772.3 L906.8 771.1 L907.1 769.9 L907.4 768.8 L907.6 767.6 L907.7 766.4 L907.8 765.2 L908.1 764.0 L908.4 762.8 L908.6 761.6 L908.8 760.4 L909.1 759.3 L909.2 758.1 L909.5 756.9 L909.8 755.7 L910.1 754.5 L910.3 753.4 L910.5 752.2 L910.8 751.0 L911.0 749.8 L911.3 748.7 L911.6 747.5 L911.6 746.3 L911.6 745.0 L911.6 743.8 L911.8 742.6 L912.1 741.5 L912.2 740.3 L912.1 739.0 L911.9 737.8 L912.0 736.6 L912.1 735.4 L912.1 734.2 L912.3 733.0 L912.5 731.8 L912.7 730.6 L912.8 729.4 L912.9 728.2 L913.1 727.0 L913.3 725.8 L913.5 724.6 L913.6 723.4 L913.6 722.2 L913.9 721.0 L914.3 719.9 L914.5 718.7 L914.6 717.5 L914.7 716.3 L914.8 715.1 L914.8 713.9 L915.0 712.7 L915.2 711.5 L915.3 710.3 L915.4 709.1 L915.7 707.9 L916.1 706.8 L916.2 705.6 L916.2 704.3 L916.3 703.1 L916.6 702.0 L916.8 700.8 L917.0 699.6 L917.2 698.4 L917.5 697.2 L917.8 696.0 L918.0 694.9 L918.1 693.7 L918.3 692.5 L918.6 691.3 L919.0 690.1 L919.4 689.0 L919.6 687.8 L919.8 686.6 L919.9 685.4 L920.2 684.2 L920.6 683.1 L920.9 681.9 L921.3 680.8 L921.6 679.6 L921.7 678.4 L921.7 677.2 L921.8 675.9 L922.1 674.8 L922.5 673.6 L922.8 672.5 L922.9 671.3 L923.0 670.0 L923.3 668.9 L923.8 667.8 L924.4 666.6 L924.7 665.5 L924.9 664.3 L925.0 663.1 L925.4 661.9 L925.9 660.8 L926.3 659.7 L926.7 658.6 L927.0 657.4 L927.2 656.2 L927.5 655.0 L927.9 653.9 L928.3 652.7 L928.7 651.6 L929.2 650.5 L929.8 649.4 L930.3 648.3 L930.7 647.2 L931.2 646.1 L931.6 645.0 L932.0 643.8 L932.5 642.7 L933.2 641.7 L933.6 640.6 L933.9 639.4 L934.4 638.3 L935.0 637.3 L935.6 636.2 L936.1 635.1 L936.8 634.1 L937.5 633.1 L938.3 632.2 L938.9 631.1 L939.2 629.9 L939.7 628.8 L940.2 627.7 L940.8 626.7 L941.5 625.7 L942.2 624.7 L942.9 623.7 L943.6 622.7 L944.4 621.8 L945.1 620.9 L945.9 619.9 L946.4 618.8 L947.1 617.8 L947.9 616.9 L948.6 616.0 L949.3 615.0 L950.1 614.0 L950.9 613.1 L951.7 612.2 L952.3 611.1 L953.0 610.1 L953.9 609.3 L954.6 608.3 L955.3 607.3 L956.0 606.3 L956.9 605.5 L957.8 604.7 L958.6 603.9 L959.4 603.0 L960.3 602.2 L961.3 601.5 L962.3 600.8 L963.4 600.3 L964.5 599.8 L965.7 599.3 L966.7 598.8 L967.8 598.1 L968.9 597.5 L970.0 597.0 L970.4 598.1 L970.8 599.3 L971.3 600.4 L971.7 601.5 L972.1 602.7 L972.4 603.9 L972.6 605.1 L972.7 606.3 L973.1 607.5 L973.6 608.6 L974.0 609.7 L974.3 610.9 L974.7 612.0 L975.3 613.1 L975.7 614.3 L976.0 615.4 L976.4 616.6 L976.9 617.7 L977.2 618.8 L977.5 620.0 L977.9 621.2 L978.3 622.3 L978.7 623.5 L979.0 624.6 L979.4 625.8 L979.8 626.9 L980.1 628.1 L980.4 629.3 L980.8 630.4 L981.1 631.6 L981.3 632.8 L981.5 634.0 L982.0 635.1 L982.5 636.2 L982.8 637.4 L983.0 638.6 L983.2 639.8 L983.6 640.9 L984.1 642.1 L984.5 643.2 L984.8 644.4 L985.2 645.5 L985.6 646.7 L985.8 647.8 L986.1 649.0 L986.4 650.2 L986.7 651.4 L987.0 652.6 L987.5 653.7 L988.0 654.8 L988.4 655.9 L988.9 657.0 L989.4 658.2 L989.8 659.3 L990.2 660.4 L990.5 661.6 L990.8 662.7 L991.1 663.9 L991.4 665.1 L991.8 666.2 L992.1 667.4 L992.4 668.5 L992.8 669.7 L993.1 670.8 L993.5 672.0 L993.8 673.1 L994.2 674.3 L994.5 675.4 L994.9 676.5 L995.2 677.7 L995.5 678.9 L995.9 680.0 L996.4 681.1 L996.9 682.2 L997.2 683.3 L997.5 684.5 L997.8 685.7 L998.2 686.8 L998.6 687.9 L999.1 689.0 L999.5 690.2 L1000.0 691.3 L1000.5 692.4 L1000.6 693.6 L1000.9 694.8 L1001.3 695.9 L1001.9 697.0 L1002.4 698.1 L1002.8 699.2 L1003.1 700.3 L1003.5 701.5 L1003.9 702.6 L1004.5 703.7 L1004.9 704.8 L1005.4 705.9 L1005.7 707.0 L1006.0 708.2 L1006.7 709.2 L1007.4 710.2 L1007.9 711.3 L1008.1 712.5 L1008.5 713.7 L1009.0 714.7 L1009.5 715.8 L1010.0 716.9 L1010.3 718.1 L1010.6 719.3 L1011.0 720.4 L1011.5 721.4 L1011.9 722.6 L1012.4 723.6 L1013.2 724.6 L1013.8 725.6 L1014.2 726.7 L1014.5 727.9 L1014.8 729.1 L1015.2 730.1 L1015.7 731.2 L1016.2 732.3 L1016.8 733.3 L1017.4 734.3 L1018.0 735.4 L1018.5 736.4 L1019.0 737.5 L1019.4 738.6 L1019.8 739.7 L1020.2 740.9 L1020.8 741.9 L1021.4 742.9 L1021.9 744.0 L1022.4 745.0 L1023.1 746.0 L1023.6 747.1 L1024.1 748.2 L1024.9 749.1 L1025.7 750.0 L1026.4 751.0 L1026.9 752.1 L1027.4 753.2 L1028.1 754.2 L1028.9 755.1 L1029.6 756.0 L1030.2 757.1 L1030.8 758.1 L1031.4 759.1 L1032.2 760.1 L1032.9 761.1 L1033.4 762.1 L1034.0 763.2 L1034.4 764.3 L1035.0 765.4 L1035.6 766.4 L1036.2 767.5 L1036.8 768.5 L1037.4 769.5 L1038.0 770.5 L1038.6 771.6 L1039.1 772.7 L1039.7 773.7 L1040.5 774.6 L1041.3 775.5 L1042.0 776.6 L1042.5 777.6 L1043.1 778.7 L1043.6 779.7 L1044.3 780.8 L1045.1 781.8 L1045.8 782.8 L1046.4 783.9 L1047.1 785.0 L1047.8 786.0 L1048.5 787.1 L1049.1 788.2 L1049.8 789.3 L1050.5 790.3 L1051.2 791.3 L1052.0 792.4 L1052.7 793.4 L1053.6 794.3 L1054.4 795.3 L1055.2 796.3 L1055.8 797.4 L1056.5 798.4 L1057.2 799.5 L1057.3 798.3 L1057.3 797.1 L1057.3 795.9 L1057.5 794.7 L1057.7 793.5 L1058.0 792.3 L1058.0 791.1 L1057.9 789.9 L1057.9 788.7 L1058.0 787.5 L1058.0 786.3 L1057.9 785.1 L1058.0 783.9 L1058.1 782.7 L1058.1 781.5 L1058.1 780.3 L1058.2 779.1 L1058.3 777.9 L1058.3 776.7 L1058.4 775.5 L1058.5 774.3 L1058.5 773.1 L1058.7 771.9 L1058.8 770.7 L1058.8 769.5 L1058.9 768.3 L1059.0 767.1 L1058.9 765.9 L1058.9 764.7 L1059.1 763.5 L1059.2 762.3 L1059.4 761.1 L1059.4 759.9 L1059.3 758.7 L1059.1 757.5 L1059.1 756.3 L1059.3 755.1 L1059.4 753.9 L1059.4 752.7 L1059.5 751.5 L1059.5 750.3 L1059.4 749.1 L1059.4 747.9 L1059.5 746.7 L1059.6 745.5 L1059.9 744.3 L1060.3 743.1 L1060.4 741.9 L1060.4 740.7 L1060.3 739.5 L1060.1 738.3 L1060.0 737.1 L1060.2 735.9 L1060.4 734.7 L1060.8 733.5 L1060.9 732.3 L1060.7 731.1 L1060.5 729.9 L1060.7 728.7 L1061.0 727.5 L1061.1 726.3 L1061.0 725.1 L1060.8 723.9 L1060.7 722.7 L1060.6 721.5 L1060.6 720.3 L1060.7 719.1 L1060.7 717.9 L1060.8 716.7 L1061.0 715.5 L1061.3 714.3 L1061.3 713.1 L1061.3 711.9 L1061.3 710.7 L1061.3 709.5 L1061.3 708.3 L1061.4 707.1 L1061.6 705.9 L1061.9 704.7 L1062.0 703.5 L1061.9 702.3 L1061.8 701.1 L1061.8 699.9 L1061.8 698.7 L1061.8 697.5 L1061.9 696.3 L1062.1 695.1 L1062.3 693.9 L1062.4 692.7 L1062.5 691.5 L1062.7 690.3 L1062.8 689.1 L1062.9 687.9 L1063.1 686.7 L1063.1 685.5 L1063.1 684.3 L1063.1 683.1 L1063.2 681.9 L1063.3 680.7 L1063.2 679.5 L1063.0 678.3 L1063.0 677.1 L1063.3 675.9 L1063.5 674.7 L1063.4 673.5 L1063.4 672.3 L1063.5 671.1 L1063.7 669.9 L1064.0 668.7 L1064.1 667.5 L1064.0 666.3 L1063.8 665.1 L1064.0 663.9 L1064.1 662.7 L1064.2 661.5 L1064.3 660.3 L1064.4 659.1 L1064.3 657.9 L1064.3 656.7 L1064.5 655.5 L1064.6 654.3 L1064.7 653.1 L1064.8 651.9 L1064.7 650.7 L1064.7 649.5 L1064.7 648.3 L1064.7 647.1 L1064.9 645.9 L1065.2 644.7 L1065.2 643.5 L1065.0 642.3 L1064.8 641.1 L1064.9 639.9 L1065.2 638.7 L1065.5 637.5 L1065.7 636.3 L1065.7 635.1 L1065.7 633.9 L1065.8 632.7 L1066.1 631.5 L1066.3 630.3 L1066.4 629.1 L1066.3 627.9 L1066.3 626.7 L1066.5 625.5 L1066.7 624.3 L1066.8 623.1 L1066.9 621.9 L1067.0 620.7 L1066.9 619.5 L1066.8 618.3 L1066.8 617.1 L1066.8 615.9 L1066.9 614.7 L1067.0 613.5 L1067.2 612.3 L1067.5 611.1 L1067.7 609.9 L1067.9 608.7 L1068.0 607.5 L1067.9 606.3 L1068.1 605.1 L1068.5 604.0 L1068.6 602.8 L1068.7 601.6 L1068.9 600.4 L1069.0 599.2 L1069.0 598.0 L1069.2 596.8 L1069.3 595.6 L1069.4 594.4 L1069.4 593.2 L1069.3 592.0 L1069.3 590.7 L1069.5 589.6 L1069.9 588.4 L1069.9 587.2 L1069.7 586.0 L1069.8 584.7 L1070.1 583.6 L1070.3 582.4 L1070.4 581.2 L1070.5 580.0 L1070.4 578.8 L1070.5 577.6 L1070.6 576.4 L1070.7 575.2 L1070.8 574.0 L1071.0 572.8 L1071.1 571.6 L1071.3 570.4 L1071.6 569.2 L1071.7 568.0 L1072.0 566.8 L1072.4 565.7 L1072.6 564.5 L1072.5 563.3 L1072.4 562.0 L1072.5 560.8 L1072.8 559.7 L1073.0 558.5 L1073.1 557.3 L1073.3 556.1 L1073.6 554.9 L1073.8 553.7 L1073.9 552.5 L1073.8 551.3 L1074.0 550.1 L1074.3 548.9 L1074.6 547.8 L1074.8 546.6 L1075.0 545.4 L1075.1 544.2 L1075.1 543.0 L1075.3 541.8 L1075.6 540.6 L1075.6 539.4 L1075.6 538.2 L1075.8 537.0 L1076.1 535.8 L1076.3 534.6 L1076.3 533.4 L1076.4 532.2 L1076.6 531.0 L1076.9 529.8 L1077.2 528.7 L1077.5 527.5 L1077.8 526.3 L1077.9 525.1 L1078.1 523.9 L1078.2 522.7 L1078.4 521.6 L1078.7 520.4 L1078.9 519.2 L1079.0 518.0 L1079.3 516.8 L1079.5 515.7 L1079.6 514.5 L1079.7 513.3 L1080.0 512.1 L1080.3 510.9 L1080.4 509.7 L1080.4 508.5 L1080.6 507.3 L1080.7 506.1 L1080.8 504.9 L1081.2 503.8 L1081.6 502.6 L1081.7 501.4 L1081.9 500.2 L1082.3 499.1 L1082.7 497.9 L1082.9 496.8 L1083.2 495.6 L1083.4 494.4 L1083.7 493.3 L1084.0 492.1 L1084.4 491.0 L1084.8 489.8 L1084.9 488.6 L1085.0 487.4 L1085.2 486.2 L1085.4 485.0 L1085.7 483.9 L1086.2 482.7 L1086.8 481.7 L1087.2 480.5 L1087.6 479.4 L1087.8 478.2 L1088.1 477.0 L1088.4 475.9 L1088.6 474.7 L1088.8 473.5 L1089.1 472.3 L1089.6 471.2 L1090.0 470.1 L1090.3 468.9 L1090.6 467.8 L1091.2 466.7 L1091.6 465.6 L1091.9 464.4 L1092.4 463.3 L1092.9 462.2 L1093.3 461.1 L1093.7 460.0 L1094.2 458.8 L1094.6 457.7 L1095.0 456.6 L1095.2 455.4 L1095.6 454.3 L1096.0 453.2 L1096.3 452.0 L1096.7 450.9 L1097.2 449.8 L1097.6 448.7 L1098.1 447.6 L1098.5 446.5 L1098.9 445.3 L1099.4 444.3 L1100.0 443.2 L1100.4 442.1 L1100.9 441.0 L1101.3 439.9 L1101.7 438.8 L1102.2 437.7 L1102.8 436.6 L1103.4 435.6 L1104.0 434.5 L1104.5 433.4 L1104.9 432.3 L1105.5 431.3 L1106.2 430.3 L1106.8 429.2 L1107.2 428.1 L1107.7 427.0 L1108.2 425.9 L1108.7 424.8 L1109.3 423.8 L1109.7 422.7 L1110.2 421.6 L1110.7 420.5 L1111.3 419.4 L1111.8 418.3 L1112.4 417.3 L1112.9 416.2 L1113.3 415.1 L1113.7 413.9 L1114.3 412.9 L1115.0 411.9 L1115.7 410.9 L1116.4 410.0 L1117.1 409.0 L1117.9 408.1 L1118.7 407.1 L1119.5 406.2 L1120.4 405.4 L1121.2 404.5 L1121.5 405.6 L1121.9 406.8 L1122.2 408.0 L1122.5 409.1 L1122.8 410.3 L1123.1 411.5 L1123.2 412.6 L1123.5 413.8 L1123.8 415.0 L1124.0 416.2 L1124.2 417.3 L1124.5 418.5 L1124.7 419.7 L1125.0 420.9 L1125.2 422.0 L1125.3 423.2 L1125.5 424.4 L1125.7 425.6 L1125.9 426.8 L1126.0 428.0 L1126.2 429.2 L1126.5 430.3 L1126.9 431.5 L1127.2 432.6 L1127.3 433.8 L1127.5 435.0 L1127.7 436.2 L1127.9 437.4 L1128.2 438.5 L1128.3 439.7 L1128.2 441.0 L1128.3 442.2 L1128.4 443.4 L1128.6 444.5 L1128.8 445.7 L1129.0 446.9 L1129.2 448.1 L1129.4 449.3 L1129.6 450.5 L1129.7 451.7 L1129.9 452.8 L1130.3 454.0 L1130.6 455.2 L1130.8 456.3 L1130.9 457.5 L1131.1 458.7 L1131.3 459.9 L1131.7 461.1 L1131.8 462.2 L1131.9 463.4 L1132.0 464.6 L1132.3 465.8 L1132.5 467.0 L1132.6 468.2 L1132.9 469.4 L1133.0 470.5 L1133.2 471.7 L1133.4 472.9 L1133.8 474.1 L1134.2 475.2 L1134.3 476.4 L1134.2 477.6 L1134.3 478.8 L1134.6 480.0 L1135.0 481.2 L1135.4 482.3 L1135.6 483.5 L1135.7 484.7 L1135.8 485.9 L1136.0 487.1 L1136.2 488.3 L1136.3 489.4 L1136.5 490.6 L1136.8 491.8 L1137.0 493.0 L1137.3 494.1 L1137.5 495.3 L1137.8 496.5 L1137.9 497.7 L1138.0 498.9 L1138.3 500.1 L1138.6 501.2 L1138.9 502.4 L1139.1 503.5 L1139.3 504.7 L1139.5 505.9 L1139.8 507.1 L1140.3 508.2 L1140.6 509.3 L1140.8 510.5 L1141.0 511.7 L1141.2 512.9 L1141.3 514.1 L1141.5 515.3 L1141.9 516.4 L1142.2 517.6 L1142.4 518.8 L1142.5 520.0 L1142.7 521.1 L1143.1 522.3 L1143.6 523.4 L1143.9 524.6 L1144.1 525.7 L1144.3 526.9 L1144.4 528.1 L1144.6 529.3 L1144.9 530.5 L1145.0 531.7 L1145.0 532.9 L1145.3 534.1 L1145.6 535.2 L1145.9 536.4 L1146.1 537.6 L1146.4 538.7 L1146.7 539.9 L1147.0 541.0 L1147.1 542.2 L1147.2 543.4 L1147.3 544.6 L1147.6 545.8 L1148.0 546.9 L1148.1 548.1 L1148.2 549.3 L1148.4 550.5 L1148.6 551.7 L1149.0 552.8 L1149.5 553.9 L1149.9 555.0 L1150.2 556.2 L1150.5 557.3 L1150.7 558.5 L1150.9 559.7 L1151.2 560.8 L1151.4 562.0 L1151.7 563.2 L1152.0 564.3 L1152.0 565.5 L1152.2 566.7 L1152.6 567.8 L1152.9 569.0 L1153.1 570.2 L1153.4 571.3 L1153.6 572.5 L1153.8 573.7 L1153.9 574.9 L1154.1 576.0 L1154.4 577.2 L1154.8 578.3 L1155.1 579.4 L1155.5 580.6 L1155.9 581.7 L1156.3 582.8 L1156.7 584.0 L1156.9 585.1 L1157.0 586.3 L1157.2 587.5 L1157.5 588.6 L1157.7 589.8 L1157.8 591.0 L1157.9 592.2 L1158.2 593.4 L1158.7 594.5 L1159.3 595.5 L1159.8 596.6 L1160.1 597.8 L1160.3 599.0 L1160.4 600.2 L1160.5 601.4 L1161.0 602.5 L1161.6 603.5 L1161.9 604.7 L1162.1 605.9 L1162.3 607.1 L1162.4 608.3 L1162.6 609.4 L1163.0 610.6 L1163.4 611.7 L1163.6 612.9 L1163.7 614.1 L1163.9 615.3 L1164.3 616.4 L1164.8 617.5 L1165.3 618.6 L1165.7 619.7 L1165.9 620.9 L1166.1 622.1 L1166.3 623.2 L1166.7 624.4 L1167.1 625.5 L1167.5 626.6 L1167.9 627.7 L1168.1 628.9 L1168.4 630.1 L1168.8 631.2 L1169.2 632.3 L1169.5 633.5 L1169.8 634.6 L1170.2 635.7 L1170.6 636.8 L1171.0 638.0 L1171.3 639.1 L1171.6 640.3 L1172.0 641.4 L1172.3 642.5 L1172.8 643.7 L1173.1 644.8 L1173.4 645.9 L1173.8 647.1 L1174.2 648.2 L1174.6 649.3 L1174.9 650.5 L1175.3 651.6 L1175.7 652.8 L1176.0 653.9 L1176.3 655.1 L1176.6 656.2 L1177.1 657.3 L1177.6 658.4 L1178.0 659.5 L1178.4 660.6 L1178.8 661.8 L1179.1 662.9 L1179.6 664.0 L1180.2 665.1 L1180.7 666.1 L1181.3 667.2 L1181.7 668.3 L1182.0 669.5 L1182.5 670.6 L1183.0 671.7 L1183.5 672.8 L1183.8 674.0 L1184.2 675.1 L1184.8 676.2 L1185.4 677.2 L1185.9 678.3 L1186.3 679.4 L1186.9 680.5 L1187.3 681.6 L1187.8 682.7 L1188.4 683.8 L1188.8 684.9 L1189.3 686.0 L1189.8 687.1 L1190.3 688.2 L1190.7 689.4 L1191.1 690.5 L1191.6 691.6 L1192.2 692.7 L1192.8 693.7 L1193.3 694.8 L1193.9 695.9 L1194.3 697.0 L1194.7 698.1 L1195.2 699.3 L1195.9 700.3 L1196.6 701.4 L1197.1 702.5 L1197.7 703.6 L1198.3 704.7 L1198.8 705.8 L1199.2 707.0 L1199.6 708.2 L1200.0 709.4 L1200.4 710.5 L1201.0 711.6 L1201.7 712.7 L1202.4 713.8 L1203.2 714.9 L1203.9 716.1 L1204.6 717.2 L1205.3 718.4 L1205.9 719.6 L1206.5 720.8 L1207.2 722.0 L1207.8 723.1 L1208.5 724.3 L1208.6 723.1 L1208.8 721.9 L1209.0 720.7 L1209.3 719.6 L1209.6 718.4 L1209.9 717.2 L1210.2 716.1 L1210.6 714.9 L1210.8 713.7 L1210.9 712.5 L1211.0 711.3 L1211.3 710.1 L1211.4 708.9 L1211.5 707.7 L1211.6 706.5 L1211.7 705.4 L1212.0 704.2 L1212.2 703.0 L1212.3 701.8 L1212.2 700.6 L1212.2 699.4 L1212.3 698.2 L1212.5 697.0 L1212.7 695.8 L1212.8 694.6 L1212.8 693.4 L1213.0 692.2 L1213.1 691.0 L1213.2 689.8 L1213.4 688.6 L1213.5 687.4 L1213.6 686.2 L1213.6 685.0 L1213.7 683.8 L1213.8 682.6 L1213.9 681.4 L1214.1 680.2 L1214.3 679.1 L1214.4 677.9 L1214.4 676.7 L1214.4 675.4 L1214.5 674.3 L1214.7 673.1 L1214.8 671.9 L1214.7 670.6 L1214.6 669.4 L1214.5 668.2 L1214.6 667.0 L1214.7 665.8 L1214.9 664.6 L1215.1 663.4 L1215.3 662.3 L1215.4 661.1 L1215.4 659.8 L1215.6 658.7 L1215.9 657.5 L1216.1 656.3 L1216.1 655.1 L1216.2 653.9 L1216.3 652.7 L1216.4 651.5 L1216.4 650.3 L1216.4 649.1 L1216.7 647.9 L1217.0 646.7 L1217.0 645.5 L1216.8 644.3 L1216.7 643.1 L1217.0 641.9 L1217.2 640.7 L1217.3 639.5 L1217.5 638.3 L1217.7 637.1 L1218.0 636.0 L1218.2 634.8 L1218.2 633.6 L1218.2 632.4 L1218.2 631.2 L1218.4 630.0 L1218.3 628.7 L1218.4 627.5 L1218.5 626.3 L1218.5 625.1 L1218.6 623.9 L1218.8 622.8 L1218.8 621.6 L1218.9 620.4 L1219.0 619.2 L1219.3 618.0 L1219.6 616.8 L1219.8 615.6 L1220.0 614.4 L1220.1 613.2 L1220.3 612.0 L1220.3 610.8 L1220.4 609.6 L1220.4 608.4 L1220.5 607.2 L1220.8 606.1 L1221.2 604.9 L1221.3 603.7 L1221.2 602.5 L1221.2 601.3 L1221.3 600.1 L1221.5 598.9 L1221.8 597.7 L1222.0 596.5 L1222.1 595.3 L1222.2 594.1 L1222.3 592.9 L1222.6 591.7 L1222.8 590.6 L1223.0 589.4 L1223.1 588.2 L1223.4 587.0 L1223.5 585.8 L1223.7 584.6 L1223.7 583.4 L1223.7 582.2 L1223.8 581.0 L1224.0 579.8 L1224.2 578.6 L1224.4 577.4 L1224.5 576.2 L1224.6 575.0 L1224.6 573.8 L1224.9 572.7 L1225.3 571.5 L1225.6 570.3 L1225.9 569.2 L1226.0 568.0 L1226.1 566.8 L1226.5 565.6 L1226.8 564.5 L1226.9 563.3 L1227.1 562.1 L1227.3 560.9 L1227.7 559.7 L1228.0 558.6 L1228.3 557.4 L1228.6 556.3 L1228.9 555.1 L1229.0 553.9 L1229.3 552.7 L1229.5 551.5 L1229.6 550.3 L1229.7 549.1 L1230.2 548.0 L1230.9 546.9 L1231.4 545.8 L1231.7 544.6 L1231.9 543.5 L1232.3 542.3 L1232.5 541.1 L1232.7 539.9 L1232.9 538.7 L1233.3 537.6 L1233.8 536.5 L1234.0 535.3 L1234.3 534.1 L1234.6 533.0 L1234.9 531.8 L1235.2 530.7 L1235.7 529.5 L1236.2 528.5 L1236.5 527.3 L1236.8 526.2 L1237.3 525.1 L1237.9 524.0 L1238.4 522.9 L1238.9 521.8 L1239.3 520.6 L1239.8 519.5 L1240.4 518.5 L1240.8 517.3 L1241.3 516.2 L1241.9 515.2 L1242.5 514.2 L1243.0 513.0 L1243.4 511.9 L1244.0 510.9 L1244.7 509.9 L1245.3 508.9 L1246.0 507.9 L1246.7 506.9 L1247.5 506.0 L1248.2 505.0 L1249.0 504.1 L1249.7 503.1 L1250.4 502.1 L1251.2 501.2 L1251.9 500.2 L1252.5 499.2 L1253.3 498.3 L1254.3 497.5 L1255.1 496.7 L1256.0 495.9 L1257.0 495.2 L1258.0 494.5 L1258.8 493.6 L1259.8 492.8 L1260.8 492.2 L1262.0 491.7 L1263.1 491.1 L1264.0 490.3 L1264.8 489.5 L1265.7 488.7 L1266.7 488.0 L1267.7 487.3 L1268.6 486.5 L1269.5 485.7 L1270.5 485.0 L1271.5 484.4 L1272.5 483.7 L1272.7 484.9 L1273.0 486.1 L1273.3 487.2 L1273.5 488.4 L1273.8 489.6 L1274.0 490.8 L1274.2 492.0 L1274.6 493.2 L1274.9 494.3 L1275.2 495.5 L1275.6 496.7 L1276.1 497.8 L1276.6 498.9 L1276.9 500.1 L1277.1 501.3 L1277.3 502.5 L1277.6 503.6 L1278.0 504.8 L1278.3 506.0 L1278.4 507.2 L1278.5 508.4 L1278.7 509.6 L1279.1 510.8 L1279.2 512.0 L1279.3 513.2 L1279.6 514.3 L1280.0 515.5 L1280.3 516.7 L1280.6 517.8 L1281.0 519.0 L1281.3 520.2 L1281.5 521.3 L1281.7 522.5 L1281.8 523.7 L1281.8 524.9 L1282.0 526.1 L1282.4 527.2 L1282.7 528.4 L1282.9 529.6 L1283.0 530.8 L1283.2 532.0 L1283.6 533.1 L1284.0 534.3 L1284.1 535.5 L1284.3 536.6 L1284.6 537.8 L1284.9 539.0 L1285.1 540.2 L1285.2 541.4 L1285.4 542.5 L1285.7 543.7 L1286.0 544.8 L1286.4 546.0 L1286.8 547.1 L1287.2 548.3 L1287.5 549.4 L1287.8 550.6 L1287.9 551.8 L1288.2 553.0 L1288.5 554.1 L1288.8 555.3 L1289.0 556.5 L1289.2 557.7 L1289.4 558.9 L1289.8 560.0 L1290.1 561.1 L1290.3 562.3 L1290.5 563.5 L1290.8 564.7 L1291.1 565.8 L1291.2 567.1 L1291.4 568.2 L1291.8 569.4 L1292.1 570.5 L1292.4 571.7 L1292.6 572.9 L1292.9 574.1 L1293.3 575.2 L1293.8 576.3 L1294.2 577.5 L1294.6 578.6 L1295.0 579.7 L1295.3 580.9 L1295.5 582.1 L1295.7 583.2 L1296.0 584.4 L1296.3 585.6 L1296.6 586.7 L1296.9 587.9 L1297.3 589.1 L1297.6 590.2 L1298.0 591.4 L1298.4 592.5 L1298.8 593.6 L1299.2 594.8 L1299.6 595.9 L1299.9 597.0 L1300.1 598.2 L1300.3 599.4 L1300.7 600.6 L1301.2 601.7 L1301.5 602.8 L1301.8 604.0 L1302.0 605.2 L1302.3 606.3 L1302.7 607.5 L1303.0 608.6 L1303.5 609.8 L1303.9 610.9 L1304.2 612.0 L1304.6 613.2 L1304.9 614.3 L1305.2 615.5 L1305.4 616.7 L1305.8 617.8 L1306.3 618.9 L1306.7 620.0 L1307.1 621.2 L1307.4 622.3 L1307.7 623.5 L1308.1 624.6 L1308.5 625.8 L1308.9 626.9 L1309.3 628.0 L1309.5 629.2 L1309.7 630.3 L1310.1 631.5 L1310.6 632.6 L1311.0 633.7 L1311.4 634.8 L1311.7 635.9 L1312.1 637.0 L1312.5 638.2 L1312.9 639.3 L1313.3 640.4 L1313.5 641.6 L1313.8 642.7 L1314.3 643.8 L1314.8 644.9 L1315.1 646.0 L1315.4 647.2 L1315.9 648.3 L1316.4 649.3 L1316.9 650.4 L1317.2 651.6 L1317.6 652.7 L1318.1 653.8 L1318.3 654.9 L1318.7 656.1 L1319.2 657.1 L1319.7 658.2 L1320.1 659.3 L1320.5 660.4 L1321.1 661.5 L1321.5 662.6 L1321.9 663.7 L1322.3 664.8 L1322.8 665.9 L1323.4 667.0 L1323.9 668.0 L1324.4 669.1 L1324.8 670.2 L1325.1 671.4 L1325.4 672.5 L1325.8 673.6 L1326.2 674.7 L1326.6 675.8 L1327.3 676.9 L1327.9 677.9 L1328.3 679.0 L1328.6 680.1 L1329.0 681.3 L1329.4 682.3 L1329.9 683.4 L1330.4 684.5 L1331.1 685.5 L1331.8 686.6 L1332.2 687.7 L1332.8 688.8 L1333.5 689.8 L1334.2 690.8 L1334.8 691.9 L1335.3 693.0 L1335.8 694.1 L1336.4 695.2 L1337.2 696.1 L1337.9 697.2 L1338.4 698.3 L1338.8 699.5 L1339.4 700.6 L1340.0 701.6 L1340.6 702.7 L1341.2 703.8 L1341.8 704.8 L1342.4 705.9 L1343.0 707.0 L1343.7 708.0 L1344.3 709.1 L1344.9 710.1 L1345.5 711.2 L1346.0 712.3 L1346.5 713.4 L1347.0 714.6 L1347.6 715.8 L1348.4 716.8 L1349.2 717.8 L1349.9 718.9 L1350.6 720.0 L1351.4 721.0 L1352.2 722.0 L1352.8 723.1 L1353.3 724.3 L1353.9 725.5 L1354.5 726.6 L1355.2 727.7 L1355.9 728.8 L1356.6 729.8 L1357.4 730.9 L1358.1 731.9 L1358.8 733.0 L1359.5 734.1 L1359.8 732.9 L1360.0 731.8 L1360.3 730.6 L1360.5 729.4 L1360.8 728.2 L1361.1 727.1 L1361.3 725.9 L1361.5 724.7 L1361.6 723.5 L1362.0 722.3 L1362.4 721.2 L1362.7 720.0 L1362.8 718.8 L1363.0 717.6 L1363.1 716.4 L1363.4 715.2 L1363.6 714.1 L1363.8 712.9 L1363.9 711.7 L1364.0 710.5 L1364.2 709.3 L1364.4 708.1 L1364.6 706.9 L1364.7 705.7 L1364.7 704.5 L1364.9 703.3 L1365.1 702.1 L1365.2 700.9 L1365.5 699.8 L1365.7 698.6 L1365.7 697.4 L1366.0 696.2 L1366.3 695.0 L1366.5 693.8 L1366.5 692.6 L1366.6 691.4 L1366.9 690.2 L1367.1 689.1 L1367.4 687.9 L1367.7 686.7 L1368.0 685.5 L1368.2 684.4 L1368.3 683.1 L1368.4 681.9 L1368.5 680.7 L1368.6 679.5 L1368.9 678.4 L1369.1 677.2 L1369.3 676.0 L1369.4 674.8 L1369.6 673.6 L1369.8 672.4 L1370.1 671.2 L1370.4 670.1 L1370.5 668.9 L1370.7 667.7 L1370.9 666.5 L1371.1 665.3 L1371.1 664.1 L1371.1 662.9 L1371.3 661.7 L1371.6 660.5 L1372.1 659.4 L1372.4 658.2 L1372.6 657.0 L1372.8 655.8 L1372.9 654.6 L1373.1 653.4 L1373.3 652.2 L1373.4 651.0 L1373.6 649.8 L1373.9 648.7 L1374.3 647.5 L1374.6 646.4 L1374.9 645.2 L1375.3 644.0 L1375.7 642.9 L1376.0 641.8 L1376.2 640.6 L1376.3 639.4 L1376.5 638.2 L1376.6 637.0 L1377.0 635.8 L1377.3 634.6 L1377.5 633.4 L1377.7 632.2 L1378.2 631.1 L1378.6 630.0 L1379.0 628.8 L1379.2 627.6 L1379.3 626.4 L1379.6 625.3 L1380.1 624.2 L1380.6 623.0 L1381.0 621.9 L1381.3 620.8 L1381.6 619.6 L1382.0 618.4 L1382.2 617.3 L1382.5 616.1 L1382.8 614.9 L1383.1 613.7 L1383.5 612.6 L1384.0 611.5 L1384.5 610.4 L1384.8 609.3 L1385.1 608.1 L1385.5 607.0 L1386.1 606.0 L1386.6 604.9 L1387.1 603.8 L1387.6 602.8 L1388.2 601.8 L1388.5 600.6 L1388.9 599.4 L1389.5 598.4 L1390.3 597.5 L1390.9 596.4 L1391.5 595.4 L1392.1 594.4 L1393.0 593.5 L1393.7 592.6 L1394.4 591.7 L1395.0 590.7 L1395.5 589.7 L1396.2 588.8 L1396.9 587.9 L1397.7 587.0 L1398.5 586.1 L1399.4 585.3 L1400.3 584.6 L1401.1 583.7 L1401.9 582.8 L1402.9 582.1 L1403.8 581.3 L1404.7 580.5 L1405.7 579.8 L1406.7 579.1 L1407.7 578.5 L1408.6 577.8 L1409.5 577.0 L1410.5 576.4 L1411.6 575.8 L1412.5 575.1 L1413.5 574.5 L1414.5 573.9 L1415.6 573.3 L1416.6 572.6 L1417.6 571.9 L1418.6 571.4 L1419.7 571.0 L1420.8 570.5 L1421.9 569.9 L1423.0 569.4 L1423.5 570.5 L1424.0 571.7 L1424.5 572.8 L1424.8 574.0 L1425.2 575.2 L1425.7 576.3 L1426.3 577.4 L1426.9 578.5 L1427.3 579.6 L1427.8 580.8 L1428.3 581.9 L1428.7 583.0 L1429.1 584.2 L1429.4 585.4 L1429.8 586.6 L1430.3 587.7 L1430.8 588.8 L1431.2 590.0 L1431.6 591.2 L1432.0 592.3 L1432.4 593.5 L1432.8 594.7 L1433.2 595.8 L1433.6 597.0 L1434.0 598.1 L1434.4 599.3 L1434.6 600.5 L1435.1 601.6 L1435.6 602.7 L1436.0 603.8 L1436.4 605.0 L1436.8 606.1 L1437.0 607.3 L1437.3 608.5 L1437.6 609.6 L1438.0 610.8 L1438.3 611.9 L1438.5 613.1 L1438.7 614.3 L1439.1 615.5 L1439.5 616.6 L1439.8 617.8 L1440.3 618.9 L1440.8 620.0 L1441.2 621.1 L1441.5 622.3 L1441.9 623.4 L1442.1 624.6 L1442.4 625.8 L1442.8 626.9 L1443.0 628.1 L1443.3 629.3 L1443.7 630.4 L1444.1 631.6 L1444.4 632.7 L1444.6 633.9 L1445.0 635.1 L1445.5 636.2 L1445.9 637.3 L1446.0 638.5 L1446.2 639.8 L1446.6 640.9 L1447.0 642.0 L1447.4 643.2 L1447.8 644.3 L1448.0 645.5 L1448.2 646.7 L1448.6 647.9 L1449.1 649.0 L1449.6 650.1 L1450.3 651.1 L1450.8 652.2 L1451.1 653.4 L1451.4 654.6 L1451.6 655.8 L1452.0 656.9 L1452.6 658.0 L1453.0 659.1 L1453.3 660.3 L1453.5 661.5 L1453.8 662.7 L1454.1 663.8 L1454.5 664.9 L1455.1 666.0 L1455.6 667.1 L1456.1 668.2 L1456.5 669.3 L1456.9 670.4 L1457.4 671.5 L1457.9 672.6 L1458.3 673.7 L1458.7 674.9 L1459.1 676.0 L1459.5 677.1 L1460.1 678.2 L1460.6 679.2 L1461.0 680.4 L1461.4 681.5 L1461.8 682.6 L1462.4 683.7 L1463.0 684.7 L1463.6 685.8 L1464.2 686.8 L1465.0 687.8 L1465.7 688.8 L1466.1 689.9 L1466.4 691.0 L1466.8 692.2 L1467.4 693.2 L1468.0 694.3 L1468.6 695.3 L1469.0 696.4 L1469.4 697.6 L1470.0 698.6 L1470.6 699.6 L1471.2 700.7 L1471.7 701.8 L1472.3 702.8 L1473.1 703.7 L1473.8 704.7 L1474.2 705.8 L1474.6 707.0 L1475.1 708.1 L1475.7 709.1 L1476.3 710.1 L1476.9 711.2 L1477.6 712.2 L1478.3 713.1 L1479.0 714.1 L1479.6 715.1 L1480.3 716.2 L1481.0 717.1 L1481.6 718.2 L1482.2 719.3 L1482.8 720.3 L1483.5 721.3 L1484.4 722.1 L1485.1 723.1 L1485.7 724.2 L1486.3 725.2 L1487.0 726.2 L1487.6 727.3 L1488.2 728.4 L1488.8 729.4 L1489.5 730.4 L1490.2 731.4 L1490.9 732.4 L1491.6 733.4 L1492.4 734.3 L1493.1 735.3 L1493.9 736.3 L1494.7 737.2 L1495.4 738.1 L1496.2 739.1 L1496.8 740.1 L1497.5 741.0 L1498.4 741.8 L1499.0 742.8 L1499.5 743.9 L1500.2 744.9 L1501.0 745.7 L1501.8 746.6 L1502.6 747.4 L1503.3 748.3 L1504.0 749.3 L1504.8 750.2 L1505.6 751.0 L1506.3 752.0 L1507.0 752.9 L1507.7 753.8 L1508.5 754.7 L1509.2 755.6 L1510.0 756.5 L1510.1 755.3 L1510.1 754.1 L1510.2 752.9 L1510.4 751.7 L1510.4 750.5 L1510.3 749.3 L1510.5 748.1 L1510.7 746.9 L1511.0 745.7 L1511.0 744.5 L1510.8 743.3 L1510.7 742.1 L1510.9 740.9 L1511.2 739.7 L1511.4 738.5 L1511.5 737.3 L1511.5 736.1 L1511.4 734.9 L1511.5 733.7 L1511.6 732.5 L1511.7 731.3 L1511.7 730.1 L1511.8 728.9 L1511.9 727.7 L1512.1 726.5 L1512.3 725.3 L1512.3 724.1 L1512.4 722.9 L1512.2 721.7 L1512.3 720.5 L1512.6 719.3 L1512.7 718.1 L1512.6 716.9 L1512.5 715.7 L1512.6 714.5 L1512.8 713.3 L1512.9 712.1 L1512.8 710.9 L1512.8 709.7 L1512.7 708.5 L1512.7 707.3 L1512.8 706.1 L1512.9 704.9 L1513.1 703.7 L1513.1 702.5 L1513.1 701.3 L1513.0 700.1 L1513.1 698.9 L1513.3 697.7 L1513.5 696.5 L1513.5 695.3 L1513.4 694.1 L1513.3 692.9 L1513.3 691.7 L1513.4 690.5 L1513.6 689.3 L1513.6 688.1 L1513.6 686.9 L1513.6 685.7 L1513.7 684.5 L1513.9 683.3 L1514.0 682.1 L1514.0 680.9 L1514.0 679.7 L1514.0 678.5 L1514.0 677.3 L1514.1 676.1 L1514.0 674.9 L1513.9 673.7 L1514.1 672.5 L1514.3 671.3 L1514.2 670.1 L1514.3 668.9 L1514.6 667.7 L1514.7 666.5 L1514.6 665.3 L1514.5 664.1 L1514.5 662.9 L1514.6 661.7 L1514.8 660.5 L1514.9 659.3 L1514.9 658.1 L1514.8 656.9 L1514.8 655.7 L1514.9 654.5 L1514.9 653.3 L1515.0 652.1 L1515.2 650.9 L1515.4 649.7 L1515.7 648.5 L1515.8 647.4 L1515.8 646.1 L1515.8 644.9 L1515.9 643.7 L1516.0 642.5 L1516.2 641.4 L1516.3 640.2 L1516.4 639.0 L1516.3 637.8 L1516.3 636.5 L1516.5 635.4 L1516.6 634.2 L1516.8 633.0 L1517.0 631.8 L1517.0 630.6 L1517.0 629.4 L1517.0 628.2 L1517.1 627.0 L1517.2 625.8 L1517.3 624.6 L1517.5 623.4 L1517.8 622.2 L1517.8 621.0 L1517.7 619.8 L1517.6 618.6 L1517.7 617.4 L1517.8 616.2 L1517.7 615.0 L1517.7 613.8 L1517.9 612.6 L1518.2 611.4 L1518.5 610.2 L1518.6 609.0 L1518.7 607.8 L1518.6 606.6 L1518.5 605.4 L1518.5 604.2 L1518.8 603.0 L1519.0 601.8 L1518.9 600.6 L1518.9 599.4 L1519.0 598.2 L1519.1 597.0 L1519.2 595.8 L1519.3 594.6 L1519.3 593.4 L1519.3 592.2 L1519.6 591.0 L1519.9 589.8 L1520.2 588.7 L1520.5 587.5 L1520.5 586.3 L1520.4 585.0 L1520.2 583.8 L1520.1 582.6 L1520.2 581.4 L1520.5 580.2 L1520.7 579.1 L1520.8 577.9 L1520.9 576.7 L1520.9 575.5 L1521.0 574.3 L1521.0 573.1 L1521.1 571.9 L1521.2 570.7 L1521.4 569.5 L1521.6 568.3 L1521.8 567.1 L1522.0 565.9 L1522.2 564.7 L1522.4 563.5 L1522.4 562.3 L1522.4 561.1 L1522.4 559.9 L1522.5 558.7 L1522.7 557.5 L1522.8 556.3 L1523.0 555.2 L1523.1 554.0 L1523.0 552.7 L1523.0 551.5 L1523.2 550.3 L1523.5 549.2 L1523.8 548.0 L1523.9 546.8 L1523.9 545.6 L1524.0 544.4 L1524.1 543.2 L1524.1 542.0 L1524.1 540.8 L1524.3 539.6 L1524.6 538.4 L1525.0 537.2 L1525.2 536.1 L1525.2 534.9 L1525.4 533.7 L1525.4 532.5 L1525.6 531.3 L1525.7 530.1 L1525.8 528.9 L1525.9 527.7 L1526.3 526.5 L1526.6 525.4 L1526.8 524.2 L1526.9 523.0 L1527.0 521.8 L1527.1 520.6 L1527.2 519.4 L1527.3 518.2 L1527.4 517.0 L1527.5 515.8 L1527.8 514.6 L1528.0 513.5 L1528.2 512.3 L1528.2 511.1 L1528.3 509.9 L1528.5 508.7 L1528.7 507.5 L1528.9 506.3 L1529.2 505.1 L1529.3 503.9 L1529.4 502.7 L1529.5 501.5 L1529.6 500.4 L1529.8 499.2 L1530.0 498.0 L1530.3 496.8 L1530.8 495.7 L1531.1 494.5 L1531.2 493.3 L1531.3 492.1 L1531.5 490.9 L1531.6 489.7 L1531.8 488.6 L1532.0 487.4 L1532.3 486.2 L1532.5 485.0 L1532.6 483.8 L1532.8 482.6 L1533.0 481.5 L1533.5 480.3 L1534.0 479.2 L1534.3 478.1 L1534.7 476.9 L1535.0 475.8 L1535.2 474.6 L1535.4 473.4 L1535.7 472.2 L1536.0 471.1 L1536.1 469.8 L1536.3 468.6 L1536.5 467.5 L1536.7 466.3 L1536.9 465.1 L1537.3 463.9 L1537.7 462.8 L1538.2 461.7 L1538.5 460.6 L1538.9 459.4 L1539.2 458.3 L1539.6 457.1 L1539.9 456.0 L1540.4 454.8 L1540.8 453.7 L1541.1 452.5 L1541.4 451.4 L1541.8 450.2 L1542.3 449.1 L1542.8 448.1 L1543.3 447.0 L1543.8 445.8 L1544.1 444.7 L1544.4 443.5 L1544.7 442.3 L1545.0 441.2 L1545.3 440.0 L1545.7 438.9 L1546.3 437.8 L1546.9 436.8 L1547.5 435.7 L1547.9 434.6 L1548.3 433.4 L1548.7 432.3 L1549.1 431.2 L1549.5 430.1 L1550.1 429.0 L1550.7 427.9 L1551.3 426.9 L1551.6 425.7 L1552.0 424.5 L1552.6 423.5 L1553.3 422.5 L1553.7 421.4 L1554.1 420.2 L1554.6 419.1 L1555.3 418.1 L1555.9 417.1 L1556.5 416.0 L1557.0 414.9 L1557.4 413.8 L1558.0 412.8 L1558.6 411.8 L1559.3 410.7 L1560.0 409.7 L1560.6 408.7 L1561.2 407.7 L1561.8 406.6 L1562.4 405.6 L1563.1 404.6 L1563.7 403.6 L1564.2 402.4 L1564.8 401.4 L1565.4 400.4 L1566.0 399.3 L1566.6 398.3 L1567.3 397.3 L1568.1 396.4 L1568.8 395.4 L1569.4 394.4 L1570.2 393.5 L1571.1 392.7 L1572.0 391.8 L1572.8 390.9 L1573.7 390.1 L1574.5 389.2 L1574.8 390.4 L1575.1 391.5 L1575.4 392.7 L1575.6 393.9 L1575.9 395.1 L1576.2 396.2 L1576.5 397.4 L1577.0 398.5 L1577.5 399.6 L1577.9 400.8 L1578.3 401.9 L1578.7 403.0 L1578.7 404.3 L1578.7 405.5 L1579.1 406.7 L1579.5 407.8 L1579.9 408.9 L1580.1 410.1 L1580.3 411.3 L1580.6 412.5 L1580.9 413.6 L1581.1 414.8 L1581.3 416.0 L1581.6 417.2 L1581.8 418.4 L1581.9 419.6 L1582.0 420.8 L1582.2 422.0 L1582.4 423.1 L1582.8 424.3 L1583.2 425.4 L1583.4 426.6 L1583.5 427.8 L1583.8 429.0 L1584.1 430.2 L1584.4 431.3 L1584.7 432.5 L1585.0 433.7 L1585.2 434.9 L1585.4 436.1 L1585.7 437.2 L1585.9 438.4 L1586.1 439.6 L1586.1 440.8 L1586.2 442.0 L1586.5 443.2 L1586.8 444.3 L1587.1 445.5 L1587.3 446.7 L1587.5 447.9 L1587.7 449.1 L1587.9 450.3 L1587.9 451.5 L1588.0 452.7 L1588.5 453.8 L1588.9 455.0 L1589.2 456.1 L1589.4 457.3 L1589.5 458.5 L1589.7 459.7 L1590.0 460.9 L1590.2 462.1 L1590.3 463.3 L1590.5 464.5 L1590.8 465.6 L1591.2 466.8 L1591.5 467.9 L1591.9 469.1 L1592.1 470.3 L1592.4 471.4 L1592.7 472.6 L1593.0 473.8 L1593.3 474.9 L1593.6 476.1 L1593.8 477.3 L1594.0 478.5 L1594.3 479.6 L1594.6 480.8 L1594.9 482.0 L1595.1 483.2 L1595.1 484.4 L1595.3 485.6 L1595.7 486.7 L1596.0 487.9 L1596.3 489.1 L1596.6 490.2 L1596.7 491.4 L1596.9 492.6 L1597.2 493.8 L1597.5 495.0 L1597.8 496.1 L1598.1 497.3 L1598.4 498.5 L1598.8 499.6 L1599.2 500.7 L1599.6 501.9 L1599.8 503.1 L1600.1 504.2 L1600.4 505.4 L1600.7 506.6 L1601.1 507.7 L1601.4 508.9 L1601.5 510.1 L1601.5 511.3 L1601.5 512.6 L1601.7 513.7 L1602.1 514.9 L1602.6 516.0 L1602.9 517.2 L1603.1 518.3 L1603.5 519.5 L1603.8 520.7 L1603.9 521.9 L1604.2 523.0 L1604.5 524.2 L1604.7 525.4 L1604.8 526.6 L1604.9 527.8 L1605.1 529.0 L1605.4 530.2 L1605.7 531.3 L1605.9 532.5 L1606.2 533.7 L1606.4 534.9 L1606.7 536.0 L1607.1 537.2 L1607.5 538.3 L1607.7 539.5 L1607.9 540.7 L1608.3 541.8 L1608.6 543.0 L1608.8 544.2 L1608.9 545.4 L1609.0 546.6 L1609.2 547.8 L1609.6 549.0 L1609.9 550.1 L1610.2 551.3 L1610.5 552.5 L1610.6 553.6 L1610.9 554.8 L1611.4 555.9 L1611.8 557.1 L1612.1 558.3 L1612.2 559.5 L1612.3 560.7 L1612.4 561.9 L1612.8 563.0 L1613.2 564.2 L1613.6 565.3 L1613.8 566.5 L1614.0 567.7 L1614.1 568.9 L1614.4 570.1 L1614.9 571.2 L1615.2 572.4 L1615.4 573.5 L1615.6 574.7 L1616.0 575.9 L1616.3 577.0 L1616.5 578.2 L1616.6 579.4 L1616.7 580.6 L1616.8 581.8 L1617.1 583.0 L1617.3 584.2 L1617.5 585.4 L1617.9 586.5 L1618.3 587.7 L1618.8 588.8 L1619.1 590.0 L1619.3 591.2 L1619.6 592.3 L1619.9 593.5 L1620.2 594.7 L1620.4 595.8 L1620.6 597.0 L1621.0 598.2 L1621.2 599.4 L1621.5 600.5 L1621.6 601.7 L1621.7 603.0 L1621.9 604.1 L1622.3 605.3 L1622.5 606.5 L1622.8 607.7 L1623.1 608.8 L1623.6 609.9 L1624.1 611.0 L1624.5 612.2 L1624.8 613.3 L1625.2 614.5 L1625.5 615.6 L1625.9 616.8 L1626.2 617.9 L1626.6 619.1 L1627.0 620.2 L1627.3 621.4 L1627.5 622.6 L1627.8 623.7 L1628.1 624.9 L1628.3 626.1 L1628.5 627.3 L1628.9 628.5 L1629.3 629.6 L1629.7 630.7 L1630.2 631.8 L1630.7 632.9 L1631.2 634.0 L1631.5 635.2 L1632.0 636.3 L1632.6 637.3 L1633.3 638.4 L1633.8 639.5 L1634.3 640.6 L1634.7 641.7 L1635.1 642.8 L1635.7 643.9 L1636.2 645.0 L1636.6 646.1 L1637.0 647.2 L1637.4 648.4 L1637.9 649.5 L1638.4 650.6 L1639.0 651.6 L1639.6 652.7 L1640.2 653.7 L1640.6 654.8 L1641.2 655.9 L1641.7 657.0 L1642.1 658.2 L1642.4 659.3 L1642.8 660.5 L1643.3 661.6 L1643.7 662.7 L1644.2 663.8 L1644.8 664.9 L1645.2 666.0 L1645.6 667.2 L1646.0 668.3 L1646.5 669.4 L1647.2 670.4 L1647.9 671.4 L1648.4 672.5 L1648.9 673.6 L1649.5 674.6 L1650.2 675.6 L1650.8 676.6 L1651.4 677.7 L1652.0 678.7 L1652.6 679.7 L1653.2 680.8 L1653.7 681.9 L1654.6 682.7 L1655.5 683.6 L1656.2 684.5 L1656.9 685.6 L1657.4 686.7 L1658.1 687.7 L1658.9 688.6 L1659.6 689.6 L1660.3 690.6 L1661.0 691.5 L1661.9 692.4 L1662.7 693.3 L1662.9 692.1 L1663.1 690.9 L1663.1 689.7 L1663.2 688.5 L1663.4 687.3 L1663.7 686.1 L1664.0 685.0 L1664.2 683.8 L1664.4 682.6 L1664.6 681.4 L1664.8 680.2 L1665.0 679.0 L1665.2 677.9 L1665.4 676.7 L1665.6 675.5 L1665.7 674.3 L1665.9 673.1 L1666.2 671.9 L1666.4 670.8 L1666.5 669.6 L1666.5 668.4 L1666.6 667.2 L1666.7 665.9 L1666.7 664.7 L1666.7 663.5 L1666.7 662.3 L1666.8 661.1 L1666.9 659.9 L1667.0 658.7 L1667.2 657.5 L1667.4 656.4 L1667.6 655.2 L1667.7 654.0 L1667.6 652.8 L1667.7 651.6 L1667.8 650.4 L1667.8 649.1 L1667.9 647.9 L1668.0 646.7 L1668.2 645.6 L1668.3 644.4 L1668.3 643.2 L1668.3 641.9 L1668.4 640.7 L1668.5 639.5 L1668.6 638.3 L1668.7 637.2 L1668.7 635.9 L1668.8 634.7 L1668.9 633.5 L1669.0 632.3 L1669.1 631.1 L1669.1 629.9 L1669.2 628.7 L1669.5 627.6 L1669.8 626.4 L1669.9 625.2 L1670.0 624.0 L1670.1 622.8 L1670.1 621.6 L1670.1 620.4 L1670.3 619.2 L1670.3 618.0 L1670.4 616.8 L1670.7 615.6 L1670.8 614.4 L1670.8 613.2 L1670.7 612.0 L1670.8 610.8 L1671.1 609.6 L1671.2 608.4 L1671.1 607.2 L1671.0 606.0 L1671.0 604.7 L1671.1 603.5 L1671.2 602.3 L1671.3 601.1 L1671.7 600.0 L1672.0 598.8 L1672.0 597.6 L1672.1 596.4 L1672.2 595.2 L1672.2 594.0 L1672.5 592.8 L1672.8 591.6 L1673.1 590.4 L1673.3 589.3 L1673.4 588.1 L1673.5 586.9 L1673.5 585.7 L1673.6 584.5 L1673.7 583.3 L1673.8 582.1 L1674.0 580.9 L1674.2 579.7 L1674.4 578.5 L1674.7 577.3 L1674.8 576.1 L1675.0 574.9 L1675.0 573.7 L1674.9 572.5 L1674.8 571.3 L1675.0 570.1 L1675.4 569.0 L1675.6 567.8 L1675.7 566.6 L1676.1 565.4 L1676.2 564.2 L1676.2 563.0 L1676.3 561.8 L1676.7 560.7 L1677.1 559.5 L1677.2 558.3 L1677.4 557.1 L1677.6 556.0 L1677.6 554.8 L1677.4 553.5 L1677.5 552.3 L1677.8 551.1 L1678.1 550.0 L1678.4 548.8 L1678.7 547.6 L1679.0 546.5 L1679.2 545.3 L1679.3 544.1 L1679.4 542.9 L1679.6 541.7 L1679.9 540.5 L1680.3 539.4 L1680.7 538.2 L1681.0 537.1 L1681.3 535.9 L1681.6 534.7 L1681.9 533.6 L1682.4 532.5 L1682.9 531.4 L1683.4 530.2 L1683.7 529.1 L1684.0 527.9 L1684.5 526.8 L1684.9 525.7 L1685.3 524.6 L1685.7 523.4 L1686.1 522.3 L1686.4 521.1 L1686.8 520.0 L1687.2 518.9 L1687.5 517.7 L1687.8 516.5 L1688.3 515.5 L1688.9 514.4 L1689.4 513.3 L1689.9 512.2 L1690.3 511.1 L1690.8 510.0 L1691.3 508.9 L1691.8 507.8 L1692.4 506.7 L1693.0 505.7 L1693.6 504.6 L1694.1 503.5 L1694.5 502.4 L1695.1 501.3 L1695.6 500.3 L1696.2 499.2 L1696.8 498.2 L1697.4 497.2 L1698.1 496.2 L1698.9 495.2 L1699.5 494.2 L1700.1 493.1 L1700.7 492.1 L1701.4 491.1 L1702.1 490.1 L1702.7 489.0 L1703.3 488.0 L1704.1 487.1 L1704.9 486.2 L1705.6 485.3 L1706.3 484.3 L1707.1 483.4 L1708.0 482.6 L1708.9 481.8 L1709.7 480.9 L1710.5 480.0 L1711.4 479.2 L1712.3 478.4 L1713.2 477.6 L1714.1 476.8 L1715.0 476.0 L1715.9 475.2 L1716.8 474.3 L1717.6 473.4 L1718.4 472.5 L1719.2 471.7 L1720.0 470.8 L1720.8 469.8 L1721.6 468.9 L1722.4 468.1 L1723.2 467.1 L1723.9 466.2 L1724.7 465.3 L1725.5 464.3 L1726.2 463.4 L1727.0 462.5 L1727.3 463.7 L1727.7 464.8 L1728.1 466.0 L1728.4 467.1 L1728.8 468.2 L1729.3 469.4 L1729.5 470.5 L1729.6 471.7 L1729.9 472.9 L1730.2 474.1 L1730.5 475.2 L1730.9 476.4 L1731.2 477.6 L1731.4 478.7 L1731.7 479.9 L1732.1 481.1 L1732.5 482.2 L1732.7 483.4 L1732.9 484.6 L1733.1 485.7 L1733.3 486.9 L1733.6 488.1 L1734.1 489.2 L1734.6 490.3 L1734.7 491.6 L1734.7 492.8 L1734.9 494.0 L1735.3 495.1 L1735.8 496.2 L1736.2 497.4 L1736.5 498.5 L1736.8 499.7 L1737.1 500.9 L1737.2 502.1 L1737.3 503.3 L1737.6 504.4 L1738.1 505.5 L1738.6 506.7 L1739.1 507.8 L1739.4 509.0 L1739.4 510.2 L1739.5 511.4 L1739.7 512.6 L1740.1 513.7 L1740.5 514.9 L1740.7 516.0 L1741.0 517.2 L1741.2 518.4 L1741.4 519.6 L1741.7 520.7 L1742.1 521.9 L1742.6 523.0 L1742.9 524.1 L1743.1 525.3 L1743.3 526.5 L1743.6 527.7 L1743.9 528.8 L1744.1 530.0 L1744.2 531.3 L1744.2 532.5 L1744.3 533.7 L1744.5 534.9 L1745.0 536.0 L1745.5 537.1 L1745.8 538.3 L1745.8 539.5 L1746.0 540.7 L1746.2 541.9 L1746.5 543.0 L1746.7 544.2 L1747.0 545.4 L1747.5 546.5 L1748.0 547.6 L1748.4 548.7 L1748.8 549.9 L1749.0 551.1 L1749.1 552.3 L1749.4 553.4 L1749.8 554.6 L1750.1 555.7 L1750.4 556.9 L1750.8 558.0 L1751.1 559.2 L1751.3 560.4 L1751.7 561.5 L1752.0 562.7 L1752.2 563.9 L1752.5 565.0 L1752.8 566.2 L1753.1 567.4 L1753.3 568.5 L1753.6 569.7 L1753.8 570.9 L1754.3 572.0 L1754.8 573.1 L1755.3 574.2 L1755.6 575.4 L1755.7 576.6 L1756.0 577.7 L1756.4 578.9 L1756.8 580.0 L1757.2 581.1 L1757.5 582.3 L1757.9 583.4 L1758.0 584.6 L1758.0 585.9 L1758.0 587.1 L1758.1 588.3 L1758.5 589.5 L1759.0 590.6 L1759.5 591.7 L1759.9 592.8 L1760.2 594.0 L1760.5 595.1 L1761.0 596.3 L1761.1 597.4 L1761.3 598.7 L1761.6 599.8 L1762.0 600.9 L1762.2 602.1 L1762.5 603.3 L1763.0 604.4 L1763.4 605.5 L1763.7 606.7 L1764.0 607.8 L1764.4 609.0 L1764.8 610.1 L1765.1 611.3 L1765.4 612.4 L1765.8 613.6 L1766.1 614.7 L1766.3 615.9 L1766.6 617.1 L1767.2 618.2 L1767.7 619.3 L1768.2 620.4 L1768.7 621.4 L1769.3 622.5 L1769.6 623.7 L1769.9 624.9 L1770.1 626.1 L1770.5 627.2 L1770.9 628.3 L1771.3 629.5 L1771.9 630.5 L1772.4 631.6 L1772.8 632.8 L1773.3 633.8 L1773.8 634.9 L1774.2 636.1 L1774.6 637.2 L1775.0 638.3 L1775.5 639.4 L1776.0 640.5 L1776.3 641.7 L1776.6 642.9 L1777.1 644.0 L1777.7 645.0 L1778.3 646.1 L1778.8 647.2 L1779.2 648.3 L1779.7 649.5 L1780.1 650.6 L1780.4 651.8 L1780.7 653.0 L1781.3 654.0 L1782.0 655.1 L1782.5 656.2 L1782.9 657.3 L1783.4 658.5 L1783.8 659.6 L1784.5 660.6 L1785.2 661.6 L1785.7 662.7 L1786.2 663.8 L1786.8 664.9 L1787.4 665.9 L1788.0 667.0 L1788.5 668.1 L1789.2 669.1 L1789.9 670.1 L1790.4 671.2 L1790.8 672.4 L1791.4 673.4 L1792.2 674.4 L1793.0 675.3 L1793.6 676.4 L1794.3 677.4 L1795.0 678.3 L1795.6 679.4 L1796.0 680.5 L1796.6 681.6 L1797.3 682.6 L1798.0 683.6 L1798.8 684.5 L1799.4 685.6 L1800.0 686.7 L1800.7 687.6 L1801.5 688.6 L1802.2 689.5 L1802.8 690.6 L1803.4 691.7 L1804.1 692.7 L1804.8 693.6 L1805.4 694.7 L1806.1 695.7 L1806.7 696.7 L1807.4 697.7 L1808.1 698.7 L1808.9 699.6 L1809.6 700.5 L1810.3 701.5 L1811.0 702.5 L1811.7 703.5 L1812.4 704.5 L1813.1 705.5 L1813.8 706.5 L1814.7 707.3 L1815.5 708.2 L1816.2 709.2 L1816.7 710.3 L1817.2 711.4 L1818.0 712.4 L1818.8 713.3 L1819.5 714.2 L1820.3 715.1 L1821.0 716.1 L1821.5 717.2 L1822.2 718.2 L1823.0 719.1 L1823.9 719.9 L1824.7 720.8 L1825.4 721.8 L1826.1 722.8 L1826.8 723.8 L1827.7 724.6 L1828.6 725.4 L1829.2 726.5 L1829.9 727.5 L1830.7 728.4 L1831.5 729.3" stroke="#4472C4" stroke-width="12.2"/>
<path d="M310.5 1519.7 L708.0 1519.7 L708.8 441.4 L805.3 441.4 L806.1 1519.7 L902.5 1519.7 L903.3 1250.2 L967.6 1250.2 L968.4 1519.7 L1054.0 1519.7 L1054.8 441.4 L1119.2 441.4 L1120.0 1519.7 L1205.4 1519.7 L1206.2 980.6 L1270.6 980.6 L1271.4 1519.7 L1356.9 1519.7 L1357.7 1250.2 L1421.7 1250.2 L1422.5 1519.7 L1507.1 1519.7 L1507.9 441.4 L1573.4 441.4 L1574.2 1519.7 L1659.7 1519.7 L1660.5 980.6 L1724.7 980.6 L1725.5 1519.7 L1831.9 1519.7" stroke="#ED7D31" stroke-opacity="0.6" stroke-width="12.2"/>
</g>
<text transform="translate(298.20 84.90) scale(1.0346 1)" font-size="78.5" fill="#595959">0</text>
<text transform="translate(583.73 84.90) scale(0.9880 1)" font-size="78.5" fill="#595959">100</text>
<text transform="translate(908.96 84.90) scale(0.9834 1)" font-size="78.5" fill="#595959">200</text>
<text transform="translate(1233.41 84.90) scale(0.9838 1)" font-size="78.5" fill="#595959">300</text>
<text transform="translate(1559.50 84.90) scale(0.9669 1)" font-size="78.5" fill="#595959">400</text>
<text transform="translate(1881.54 84.90) scale(0.9905 1)" font-size="78.5" fill="#595959">500</text>
<text transform="translate(140.35 194.30) scale(0.9830 1)" font-size="78.5" fill="#595959">-32</text>
<text transform="translate(140.39 418.97) scale(0.9706 1)" font-size="78.5" fill="#595959">-33</text>
<text transform="translate(140.45 643.63) scale(0.9512 1)" font-size="78.5" fill="#595959">-34</text>
<text transform="translate(140.39 868.30) scale(0.9706 1)" font-size="78.5" fill="#595959">-35</text>
<text transform="translate(140.41 1092.97) scale(0.9632 1)" font-size="78.5" fill="#595959">-36</text>
<text transform="translate(140.35 1317.63) scale(0.9839 1)" font-size="78.5" fill="#595959">-37</text>
<text transform="translate(140.40 1542.30) scale(0.9681 1)" font-size="78.5" fill="#595959">-38</text>
<text transform="translate(2016.67 1542.30) scale(1.0105 1)" font-size="78.5" fill="#595959">0</text>
<text transform="translate(2014.44 1407.50) scale(1.0141 1)" font-size="78.5" fill="#595959">50</text>
<text transform="translate(2014.35 1272.70) scale(0.9852 1)" font-size="78.5" fill="#595959">100</text>
<text transform="translate(2014.35 1137.90) scale(0.9852 1)" font-size="78.5" fill="#595959">150</text>
<text transform="translate(2015.59 1003.10) scale(0.9744 1)" font-size="78.5" fill="#595959">200</text>
<text transform="translate(2015.59 868.30) scale(0.9744 1)" font-size="78.5" fill="#595959">250</text>
<text transform="translate(2015.34 733.50) scale(0.9766 1)" font-size="78.5" fill="#595959">300</text>
<text transform="translate(2015.34 598.70) scale(0.9766 1)" font-size="78.5" fill="#595959">350</text>
<text transform="translate(2017.56 463.90) scale(0.9572 1)" font-size="78.5" fill="#595959">400</text>
<text transform="translate(2017.56 329.10) scale(0.9572 1)" font-size="78.5" fill="#595959">450</text>
<text transform="translate(2014.58 194.30) scale(0.9832 1)" font-size="78.5" fill="#595959">500</text>
<text transform="translate(923.13 1620.30) scale(1.0466 1)" font-size="87" fill="#595959">Time</text>
<text transform="translate(1134.43 1620.30) scale(1.0320 1)" font-size="87" fill="#595959">(min)</text>
<text transform="translate(92.80 1201.11) rotate(-90) scale(1.0851 1)" font-size="87" fill="#595959">Magnitude</text>
<text transform="translate(92.80 774.65) rotate(-90) scale(1.0523 1)" font-size="87" fill="#595959">S</text>
<text transform="translate(112.40 727.18) rotate(-90) scale(0.9490 1)" font-size="60" fill="#595959">11</text>
<text transform="translate(92.80 649.35) rotate(-90) scale(0.9743 1)" font-size="87" fill="#595959">(dB)</text>
<text transform="translate(2243.20 1318.18) rotate(-90) scale(1.1130 1)" font-size="87" fill="#595959">NH</text>
<text transform="translate(2263.40 1180.78) rotate(-90) scale(1.0120 1)" font-size="60" fill="#595959">3</text>
<text transform="translate(2243.20 1130.46) rotate(-90) scale(1.0655 1)" font-size="87" fill="#595959">concentration</text>
<text transform="translate(2243.20 604.22) rotate(-90) scale(1.0712 1)" font-size="87" fill="#595959">(ppm)</text>
<text stroke="#000" stroke-width="0.9" transform="translate(914.89 562.70) scale(1.0696 1)" font-size="87" fill="#000">a</text><text stroke="#000" stroke-width="0.5" transform="translate(954.58 582.00) scale(0.9365 1)" font-size="60" fill="#000">1</text>
<text stroke="#000" stroke-width="0.9" transform="translate(1067.60 380.10) scale(1.0832 1)" font-size="87" fill="#000">b</text><text stroke="#000" stroke-width="0.5" transform="translate(1112.03 399.40) scale(0.9271 1)" font-size="60" fill="#000">1</text>
<text stroke="#000" stroke-width="0.9" transform="translate(1240.88 447.00) scale(0.9893 1)" font-size="87" fill="#000">c</text><text stroke="#000" stroke-width="0.5" transform="translate(1276.68 466.30) scale(0.9365 1)" font-size="60" fill="#000">1</text>
<text stroke="#000" stroke-width="0.9" transform="translate(1370.73 528.60) scale(1.0580 1)" font-size="87" fill="#000">a</text><text stroke="#000" stroke-width="0.5" transform="translate(1410.29 547.90) scale(1.0433 1)" font-size="60" fill="#000">2</text>
<text stroke="#000" stroke-width="0.9" transform="translate(1542.70 355.60) scale(1.0832 1)" font-size="87" fill="#000">b</text><text stroke="#000" stroke-width="0.5" transform="translate(1586.68 374.90) scale(1.0474 1)" font-size="60" fill="#000">2</text>
<text stroke="#000" stroke-width="0.9" transform="translate(1710.88 422.10) scale(0.9893 1)" font-size="87" fill="#000">c</text><text stroke="#000" stroke-width="0.5" transform="translate(1746.65 441.40) scale(1.0186 1)" font-size="60" fill="#000">2</text>
</svg></body></html>
